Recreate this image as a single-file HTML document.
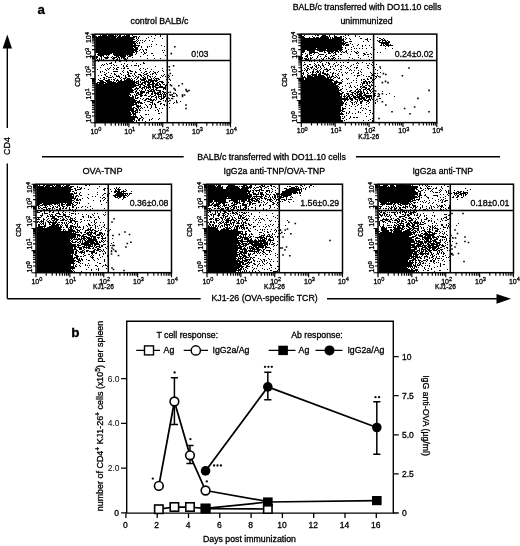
<!DOCTYPE html>
<html><head><meta charset="utf-8"><style>
html,body{margin:0;padding:0;background:#fff;overflow:hidden;}
svg{display:block;filter:blur(0.35px);}
text{font-family:"Liberation Sans",sans-serif;fill:#000;stroke:#000;stroke-width:0.3px;}
</style></head><body>
<svg width="520" height="546" viewBox="0 0 520 546">
<rect width="520" height="546" fill="#fff"/>
<text x="37.5" y="13.6" font-size="13.3" font-weight="bold">a</text>
<text x="159.5" y="23.7" font-size="8.75" text-anchor="middle" >control BALB/c</text>
<text x="367.0" y="9.7" font-size="8.75" text-anchor="middle" >BALB/c transferred with DO11.10 cells</text>
<text x="366.5" y="24.0" font-size="8.75" text-anchor="middle" >unimmunized</text>
<path d="M7.3 46V128M7.3 163.5V298.8" stroke="#000" stroke-width="1.4" fill="none"/>
<path d="M7.3 34.5L2.6 48.5H12Z" fill="#000"/>
<path d="M511 298.8L496.5 293.9V303.7Z" fill="#000"/>
<text transform="translate(10.1,146) rotate(-90)" font-size="8.9" text-anchor="middle">CD4</text>
<path d="M42 156.8H183.7M356 156.8H500" stroke="#000" stroke-width="1.4"/>
<text x="271.5" y="159.8" font-size="8.75" text-anchor="middle" >BALB/c transferred with DO11.10 cells</text>
<text x="102.5" y="174.1" font-size="9.2" text-anchor="middle" >OVA-TNP</text>
<text x="274.3" y="174.2" font-size="8.75" text-anchor="middle" >IgG2a anti-TNP/OVA-TNP</text>
<text x="442.8" y="174.2" font-size="8.75" text-anchor="middle" >IgG2a anti-TNP</text>
<path d="M7.3 298.8H200.7M327 298.8H497" stroke="#000" stroke-width="1.4" fill="none"/>
<text x="264.6" y="301.2" font-size="8.75" text-anchor="middle" >KJ1-26 (OVA-specific TCR)</text>
<path d="M106 34h1v1h-1zM109 34h3v1h-3zM113 34h1v1h-1zM120 34h1v1h-1zM128 34h1v1h-1zM134 34h3v1h-3zM100 35h1v1h-1zM102 35h5v1h-5zM108 35h6v1h-6zM115 35h1v1h-1zM117 35h1v1h-1zM119 35h2v1h-2zM124 35h1v1h-1zM126 35h4v1h-4zM132 35h1v1h-1zM155 35h1v1h-1zM160 35h1v1h-1zM95.5 36h1.5v1h-1.5zM98 36h19v1h-19zM118 36h3v1h-3zM122 36h8v1h-8zM133 36h4v1h-4zM139 36h1v1h-1zM151 36h1v1h-1zM160 36h1v1h-1zM95.5 37h20.5v1h-20.5zM117 37h18v1h-18zM136 37h1v1h-1zM138 37h1v1h-1zM148 37h1v1h-1zM95.5 38h38.5v1h-38.5zM136 38h1v1h-1zM138 38h1v1h-1zM146 38h1v1h-1zM154 38h1v1h-1zM162 38h1v1h-1zM95.5 39h39.5v1h-39.5zM137 39h1v1h-1zM95.5 40h37.5v1h-37.5zM136 40h1v1h-1zM138 40h1v1h-1zM140 40h1v1h-1zM142 40h1v1h-1zM145 40h1v1h-1zM149 40h1v1h-1zM95.5 41h40.5v1h-40.5zM137 41h1v1h-1zM144 41h1v1h-1zM152 41h1v1h-1zM95.5 42h39.5v1h-39.5zM136 42h1v1h-1zM139 42h1v1h-1zM142 42h1v1h-1zM95.5 43h40.5v1h-40.5zM137 43h1v1h-1zM139 43h1v1h-1zM95.5 44h37.5v1h-37.5zM134 44h2v1h-2zM151 44h1v1h-1zM156 44h1v1h-1zM95.5 45h44.5v1h-44.5zM161 45h1v1h-1zM95.5 46h40.5v1h-40.5zM138 46h1v1h-1zM141 46h1v1h-1zM147 46h1v1h-1zM149 46h1v1h-1zM151 46h1v1h-1zM164 46h1v1h-1zM95.5 47h37.5v1h-37.5zM134 47h4v1h-4zM141 47h1v1h-1zM147 47h1v1h-1zM95.5 48h38.5v1h-38.5zM135 48h3v1h-3zM95.5 49h42.5v1h-42.5zM140 49h1v1h-1zM142 49h1v1h-1zM145 49h2v1h-2zM95.5 50h41.5v1h-41.5zM139 50h1v1h-1zM143 50h1v1h-1zM146 50h1v1h-1zM162 50h1v1h-1zM164 50h1v1h-1zM95.5 51h38.5v1h-38.5zM135 51h3v1h-3zM143 51h1v1h-1zM95.5 52h39.5v1h-39.5zM136 52h1v1h-1zM141 52h1v1h-1zM144 52h1v1h-1zM146 52h1v1h-1zM163 52h1v1h-1zM98 53h14v1h-14zM113 53h20v1h-20zM136 53h1v1h-1zM144 53h2v1h-2zM151 53h2v1h-2zM95.5 54h0.5v1h-0.5zM97 54h13v1h-13zM113 54h20v1h-20zM135 54h1v1h-1zM143 54h1v1h-1zM95.5 55h0.5v1h-0.5zM98 55h6v1h-6zM106 55h1v1h-1zM108 55h1v1h-1zM114 55h12v1h-12zM127 55h1v1h-1zM129 55h4v1h-4zM147 55h1v1h-1zM153 55h1v1h-1zM165 55h1v1h-1zM96 56h2v1h-2zM100 56h2v1h-2zM103 56h1v1h-1zM107 56h1v1h-1zM112 56h1v1h-1zM116 56h3v1h-3zM120 56h6v1h-6zM128 56h3v1h-3zM140 56h1v1h-1zM96 57h2v1h-2zM101 57h1v1h-1zM104 57h5v1h-5zM111 57h1v1h-1zM113 57h4v1h-4zM118 57h2v1h-2zM121 57h4v1h-4zM127 57h1v1h-1zM132 57h1v1h-1zM96 58h1v1h-1zM99 58h1v1h-1zM101 58h1v1h-1zM105 58h3v1h-3zM112 58h3v1h-3zM117 58h1v1h-1zM119 58h1v1h-1zM121 58h1v1h-1zM123 58h3v1h-3zM127 58h1v1h-1zM147 58h1v1h-1zM154 58h1v1h-1zM160 58h1v1h-1zM97 59h1v1h-1zM99 59h1v1h-1zM101 59h1v1h-1zM103 59h1v1h-1zM113 59h1v1h-1zM116 59h2v1h-2zM119 59h1v1h-1zM124 59h3v1h-3zM96 60h2v1h-2zM102 60h1v1h-1zM123 60h1v1h-1zM125 60h1v1h-1zM95.5 61h0.5v1h-0.5zM98 61h1v1h-1zM115 61h1v1h-1zM119 61h2v1h-2zM126 61h1v1h-1zM132 61h1v1h-1zM111 62h1v1h-1zM115 62h1v1h-1zM143 62h1v1h-1zM106 63h1v1h-1zM109 63h3v1h-3zM124 63h1v1h-1zM136 63h1v1h-1zM143 63h2v1h-2zM102 64h1v1h-1zM104 64h1v1h-1zM107 64h1v1h-1zM113 64h1v1h-1zM121 64h1v1h-1zM127 64h1v1h-1zM140 64h1v1h-1zM101 65h1v1h-1zM103 65h1v1h-1zM111 65h1v1h-1zM114 65h1v1h-1zM116 65h1v1h-1zM123 65h1v1h-1zM126 65h1v1h-1zM131 65h1v1h-1zM134 65h3v1h-3zM138 65h1v1h-1zM123 66h1v1h-1zM126 66h2v1h-2zM138 66h1v1h-1zM155 66h1v1h-1zM100 67h1v1h-1zM110 67h1v1h-1zM113 67h1v1h-1zM117 67h2v1h-2zM124 67h1v1h-1zM107 68h1v1h-1zM109 68h1v1h-1zM114 68h1v1h-1zM116 68h1v1h-1zM121 68h1v1h-1zM123 68h2v1h-2zM127 68h2v1h-2zM140 68h1v1h-1zM143 68h1v1h-1zM147 68h1v1h-1zM162 68h1v1h-1zM97 69h1v1h-1zM105 69h1v1h-1zM108 69h1v1h-1zM113 69h1v1h-1zM116 69h2v1h-2zM139 69h1v1h-1zM145 69h1v1h-1zM151 69h1v1h-1zM106 70h1v1h-1zM123 70h1v1h-1zM129 70h2v1h-2zM140 70h1v1h-1zM162 70h1v1h-1zM100 71h1v1h-1zM102 71h1v1h-1zM113 71h5v1h-5zM122 71h1v1h-1zM127 71h1v1h-1zM130 71h3v1h-3zM135 71h1v1h-1zM145 71h2v1h-2zM150 71h1v1h-1zM153 71h1v1h-1zM158 71h1v1h-1zM163 71h1v1h-1zM100 72h1v1h-1zM104 72h1v1h-1zM108 72h1v1h-1zM123 72h1v1h-1zM127 72h2v1h-2zM135 72h2v1h-2zM141 72h1v1h-1zM144 72h1v1h-1zM149 72h1v1h-1zM154 72h2v1h-2zM157 72h1v1h-1zM106 73h1v1h-1zM111 73h1v1h-1zM114 73h1v1h-1zM120 73h1v1h-1zM128 73h1v1h-1zM130 73h2v1h-2zM134 73h1v1h-1zM143 73h1v1h-1zM146 73h2v1h-2zM152 73h2v1h-2zM155 73h1v1h-1zM104 74h2v1h-2zM114 74h2v1h-2zM121 74h1v1h-1zM127 74h2v1h-2zM134 74h1v1h-1zM138 74h3v1h-3zM144 74h3v1h-3zM150 74h1v1h-1zM152 74h1v1h-1zM156 74h1v1h-1zM164 74h1v1h-1zM95.5 75h0.5v1h-0.5zM98 75h1v1h-1zM101 75h1v1h-1zM105 75h1v1h-1zM110 75h1v1h-1zM116 75h1v1h-1zM118 75h1v1h-1zM123 75h1v1h-1zM125 75h1v1h-1zM128 75h2v1h-2zM132 75h1v1h-1zM135 75h1v1h-1zM140 75h2v1h-2zM143 75h1v1h-1zM147 75h2v1h-2zM161 75h1v1h-1zM163 75h1v1h-1zM172 75h1v1h-1zM106 76h2v1h-2zM112 76h1v1h-1zM116 76h4v1h-4zM125 76h1v1h-1zM128 76h3v1h-3zM133 76h1v1h-1zM136 76h1v1h-1zM138 76h1v1h-1zM141 76h1v1h-1zM144 76h1v1h-1zM147 76h1v1h-1zM149 76h2v1h-2zM152 76h1v1h-1zM155 76h1v1h-1zM162 76h1v1h-1zM165 76h1v1h-1zM169 76h1v1h-1zM103 77h2v1h-2zM108 77h4v1h-4zM113 77h1v1h-1zM119 77h1v1h-1zM121 77h1v1h-1zM125 77h2v1h-2zM135 77h1v1h-1zM137 77h2v1h-2zM142 77h2v1h-2zM145 77h1v1h-1zM147 77h1v1h-1zM150 77h1v1h-1zM154 77h1v1h-1zM160 77h1v1h-1zM167 77h2v1h-2zM100 78h1v1h-1zM104 78h1v1h-1zM106 78h1v1h-1zM115 78h1v1h-1zM120 78h1v1h-1zM123 78h3v1h-3zM127 78h3v1h-3zM131 78h1v1h-1zM134 78h1v1h-1zM137 78h1v1h-1zM140 78h1v1h-1zM143 78h3v1h-3zM147 78h1v1h-1zM151 78h1v1h-1zM153 78h1v1h-1zM155 78h4v1h-4zM95.5 79h0.5v1h-0.5zM98 79h1v1h-1zM103 79h2v1h-2zM108 79h2v1h-2zM111 79h1v1h-1zM113 79h2v1h-2zM117 79h1v1h-1zM121 79h1v1h-1zM124 79h1v1h-1zM126 79h5v1h-5zM132 79h1v1h-1zM136 79h1v1h-1zM140 79h6v1h-6zM148 79h4v1h-4zM154 79h1v1h-1zM156 79h1v1h-1zM158 79h2v1h-2zM166 79h1v1h-1zM99 80h4v1h-4zM105 80h5v1h-5zM114 80h1v1h-1zM116 80h3v1h-3zM120 80h2v1h-2zM124 80h9v1h-9zM134 80h1v1h-1zM138 80h1v1h-1zM141 80h4v1h-4zM146 80h1v1h-1zM148 80h10v1h-10zM170 80h1v1h-1zM100 81h4v1h-4zM106 81h6v1h-6zM113 81h1v1h-1zM116 81h1v1h-1zM118 81h17v1h-17zM136 81h3v1h-3zM140 81h1v1h-1zM144 81h5v1h-5zM150 81h4v1h-4zM155 81h2v1h-2zM159 81h4v1h-4zM167 81h1v1h-1zM97 82h9v1h-9zM107 82h9v1h-9zM117 82h20v1h-20zM138 82h1v1h-1zM140 82h1v1h-1zM142 82h4v1h-4zM147 82h4v1h-4zM152 82h2v1h-2zM157 82h2v1h-2zM161 82h3v1h-3zM168 82h1v1h-1zM95.5 83h2.5v1h-2.5zM99 83h5v1h-5zM105 83h30v1h-30zM136 83h3v1h-3zM141 83h2v1h-2zM144 83h2v1h-2zM148 83h2v1h-2zM152 83h3v1h-3zM156 83h2v1h-2zM159 83h1v1h-1zM162 83h1v1h-1zM95.5 84h40.5v1h-40.5zM138 84h5v1h-5zM145 84h1v1h-1zM147 84h7v1h-7zM155 84h3v1h-3zM159 84h2v1h-2zM163 84h2v1h-2zM166 84h1v1h-1zM95.5 85h43.5v1h-43.5zM140 85h1v1h-1zM143 85h2v1h-2zM147 85h3v1h-3zM152 85h2v1h-2zM155 85h4v1h-4zM160 85h1v1h-1zM165 85h2v1h-2zM95.5 86h40.5v1h-40.5zM139 86h2v1h-2zM144 86h3v1h-3zM148 86h3v1h-3zM152 86h4v1h-4zM159 86h4v1h-4zM165 86h1v1h-1zM95.5 87h38.5v1h-38.5zM136 87h1v1h-1zM139 87h2v1h-2zM142 87h3v1h-3zM146 87h5v1h-5zM152 87h2v1h-2zM155 87h11v1h-11zM95.5 88h36.5v1h-36.5zM135 88h4v1h-4zM141 88h2v1h-2zM144 88h1v1h-1zM146 88h1v1h-1zM148 88h1v1h-1zM150 88h1v1h-1zM153 88h1v1h-1zM156 88h2v1h-2zM163 88h3v1h-3zM167 88h1v1h-1zM95.5 89h37.5v1h-37.5zM134 89h2v1h-2zM137 89h1v1h-1zM142 89h1v1h-1zM145 89h1v1h-1zM149 89h1v1h-1zM151 89h3v1h-3zM155 89h2v1h-2zM163 89h1v1h-1zM165 89h1v1h-1zM95.5 90h38.5v1h-38.5zM136 90h1v1h-1zM139 90h1v1h-1zM141 90h1v1h-1zM145 90h1v1h-1zM147 90h2v1h-2zM150 90h2v1h-2zM153 90h2v1h-2zM156 90h5v1h-5zM175 90h1v1h-1zM95.5 91h37.5v1h-37.5zM135 91h2v1h-2zM140 91h5v1h-5zM148 91h7v1h-7zM159 91h2v1h-2zM162 91h2v1h-2zM95.5 92h38.5v1h-38.5zM135 92h1v1h-1zM137 92h2v1h-2zM140 92h5v1h-5zM146 92h3v1h-3zM152 92h1v1h-1zM154 92h2v1h-2zM157 92h4v1h-4zM163 92h3v1h-3zM168 92h1v1h-1zM95.5 93h34.5v1h-34.5zM136 93h3v1h-3zM140 93h3v1h-3zM146 93h1v1h-1zM148 93h1v1h-1zM151 93h2v1h-2zM154 93h5v1h-5zM160 93h1v1h-1zM162 93h1v1h-1zM164 93h1v1h-1zM166 93h1v1h-1zM175 93h1v1h-1zM95.5 94h35.5v1h-35.5zM134 94h1v1h-1zM136 94h1v1h-1zM138 94h4v1h-4zM145 94h1v1h-1zM151 94h2v1h-2zM155 94h1v1h-1zM157 94h5v1h-5zM163 94h3v1h-3zM167 94h1v1h-1zM172 94h1v1h-1zM176 94h1v1h-1zM95.5 95h33.5v1h-33.5zM130 95h1v1h-1zM132 95h1v1h-1zM135 95h3v1h-3zM140 95h3v1h-3zM144 95h3v1h-3zM150 95h1v1h-1zM154 95h2v1h-2zM158 95h1v1h-1zM161 95h1v1h-1zM163 95h1v1h-1zM165 95h1v1h-1zM170 95h1v1h-1zM95.5 96h34.5v1h-34.5zM132 96h2v1h-2zM135 96h1v1h-1zM140 96h2v1h-2zM148 96h2v1h-2zM151 96h3v1h-3zM156 96h1v1h-1zM158 96h4v1h-4zM163 96h3v1h-3zM172 96h3v1h-3zM95.5 97h38.5v1h-38.5zM135 97h1v1h-1zM137 97h2v1h-2zM151 97h1v1h-1zM155 97h2v1h-2zM158 97h1v1h-1zM161 97h1v1h-1zM163 97h2v1h-2zM167 97h1v1h-1zM95.5 98h38.5v1h-38.5zM135 98h3v1h-3zM140 98h1v1h-1zM143 98h1v1h-1zM146 98h3v1h-3zM150 98h1v1h-1zM156 98h1v1h-1zM159 98h1v1h-1zM161 98h3v1h-3zM166 98h1v1h-1zM169 98h1v1h-1zM171 98h1v1h-1zM95.5 99h39.5v1h-39.5zM142 99h1v1h-1zM145 99h2v1h-2zM148 99h4v1h-4zM153 99h2v1h-2zM156 99h1v1h-1zM160 99h2v1h-2zM166 99h1v1h-1zM95.5 100h41.5v1h-41.5zM139 100h1v1h-1zM144 100h2v1h-2zM150 100h4v1h-4zM155 100h1v1h-1zM163 100h1v1h-1zM165 100h1v1h-1zM176 100h1v1h-1zM95.5 101h40.5v1h-40.5zM137 101h3v1h-3zM147 101h3v1h-3zM152 101h1v1h-1zM158 101h3v1h-3zM165 101h1v1h-1zM168 101h1v1h-1zM176 101h1v1h-1zM180 101h1v1h-1zM95.5 102h46.5v1h-46.5zM144 102h1v1h-1zM150 102h3v1h-3zM157 102h2v1h-2zM174 102h1v1h-1zM95.5 103h38.5v1h-38.5zM135 103h2v1h-2zM138 103h1v1h-1zM140 103h3v1h-3zM152 103h1v1h-1zM154 103h1v1h-1zM160 103h2v1h-2zM169 103h1v1h-1zM173 103h1v1h-1zM95.5 104h41.5v1h-41.5zM145 104h1v1h-1zM149 104h2v1h-2zM152 104h1v1h-1zM154 104h2v1h-2zM160 104h1v1h-1zM163 104h2v1h-2zM95.5 105h38.5v1h-38.5zM136 105h3v1h-3zM140 105h1v1h-1zM146 105h1v1h-1zM151 105h1v1h-1zM155 105h1v1h-1zM164 105h1v1h-1zM166 105h1v1h-1zM95.5 106h36.5v1h-36.5zM136 106h5v1h-5zM147 106h1v1h-1zM151 106h1v1h-1zM155 106h1v1h-1zM95.5 107h36.5v1h-36.5zM133 107h2v1h-2zM137 107h2v1h-2zM141 107h1v1h-1zM144 107h1v1h-1zM147 107h1v1h-1zM151 107h1v1h-1zM155 107h2v1h-2zM169 107h1v1h-1zM95.5 108h38.5v1h-38.5zM135 108h2v1h-2zM138 108h1v1h-1zM140 108h1v1h-1zM142 108h1v1h-1zM150 108h1v1h-1zM159 108h1v1h-1zM162 108h1v1h-1zM95.5 109h38.5v1h-38.5zM136 109h2v1h-2zM139 109h1v1h-1zM157 109h1v1h-1zM95.5 110h38.5v1h-38.5zM135 110h3v1h-3zM139 110h2v1h-2zM145 110h1v1h-1zM148 110h1v1h-1zM155 110h1v1h-1zM158 110h1v1h-1zM95.5 111h34.5v1h-34.5zM131 111h5v1h-5zM137 111h1v1h-1zM158 111h1v1h-1zM95.5 112h35.5v1h-35.5zM132 112h2v1h-2zM135 112h3v1h-3zM139 112h1v1h-1zM161 112h1v1h-1zM95.5 113h35.5v1h-35.5zM132 113h4v1h-4zM158 113h2v1h-2zM95.5 114h36.5v1h-36.5zM133 114h3v1h-3zM145 114h2v1h-2zM148 114h1v1h-1zM95.5 115h35.5v1h-35.5zM133 115h1v1h-1zM135 115h1v1h-1zM140 115h1v1h-1zM95.5 116h41.5v1h-41.5zM141 116h1v1h-1zM95.5 117h42.5v1h-42.5zM141 117h2v1h-2zM95.5 118h39.5v1h-39.5zM137 118h1v1h-1zM139 118h2v1h-2zM143 118h1v1h-1zM152 118h1v1h-1zM159 118h1v1h-1zM95.5 119h39.5v1h-39.5zM138 119h2v1h-2zM142 119h1v1h-1zM149 119h1v1h-1zM151 119h1v1h-1zM158 119h1v1h-1zM95.5 120h37.5v1h-37.5zM134 120h1v1h-1zM136 120h1v1h-1zM138 120h2v1h-2zM142 120h1v1h-1zM149 120h1v1h-1zM95.5 121h38.5v1h-38.5zM136 121h1v1h-1zM145 121h1v1h-1zM95.5 122h37.5v1h-37.5zM172.8 65.0h1.6v1.6h-1.6zM168.5 66.0h1.6v1.6h-1.6zM168.7 69.2h1.6v1.6h-1.6zM169.5 72.7h1.6v1.6h-1.6zM167.7 74.7h1.6v1.6h-1.6zM168.7 78.5h1.6v1.6h-1.6zM169.7 84.0h1.6v1.6h-1.6zM170.7 85.0h1.6v1.6h-1.6zM178.0 85.0h1.6v1.6h-1.6zM181.5 83.0h1.6v1.6h-1.6zM173.2 87.7h1.6v1.6h-1.6zM174.2 88.7h1.6v1.6h-1.6zM185.2 88.7h1.6v1.6h-1.6zM185.7 90.2h1.6v1.6h-1.6zM186.7 90.7h1.6v1.6h-1.6zM188.2 89.7h1.6v1.6h-1.6zM169.5 91.5h1.6v1.6h-1.6zM173.0 92.5h1.6v1.6h-1.6zM169.2 94.0h1.6v1.6h-1.6zM171.2 94.2h1.6v1.6h-1.6zM176.2 95.0h1.6v1.6h-1.6zM181.7 94.2h1.6v1.6h-1.6zM181.7 95.7h1.6v1.6h-1.6zM183.7 94.2h1.6v1.6h-1.6zM167.2 97.2h1.6v1.6h-1.6zM171.7 97.7h1.6v1.6h-1.6zM169.2 99.7h1.6v1.6h-1.6zM176.2 101.7h1.6v1.6h-1.6zM185.2 104.2h1.6v1.6h-1.6zM185.2 107.7h1.6v1.6h-1.6zM174.0 46.0h1.6v1.6h-1.6zM170.5 52.8h1.6v1.6h-1.6z" fill="#000"/>
<path d="M95.00 122.70v4.5M95.00 122.70h-4.5M105.20 122.70v3M95.00 116.04h-3M111.16 122.70v3M95.00 112.14h-3M115.39 122.70v3M95.00 109.38h-3M118.68 122.70v3M95.00 107.24h-3M121.36 122.70v3M95.00 105.48h-3M123.63 122.70v3M95.00 104.00h-3M125.59 122.70v3M95.00 102.72h-3M127.32 122.70v3M95.00 101.59h-3M128.88 122.70v4.5M95.00 100.58h-4.5M139.07 122.70v3M95.00 93.91h-3M145.04 122.70v3M95.00 90.02h-3M149.27 122.70v3M95.00 87.25h-3M152.55 122.70v3M95.00 85.11h-3M155.23 122.70v3M95.00 83.36h-3M157.50 122.70v3M95.00 81.88h-3M159.47 122.70v3M95.00 80.59h-3M161.20 122.70v3M95.00 79.46h-3M162.75 122.70v4.5M95.00 78.45h-4.5M172.95 122.70v3M95.00 71.79h-3M178.91 122.70v3M95.00 67.89h-3M183.14 122.70v3M95.00 65.13h-3M186.43 122.70v3M95.00 62.99h-3M189.11 122.70v3M95.00 61.23h-3M191.38 122.70v3M95.00 59.75h-3M193.34 122.70v3M95.00 58.47h-3M195.07 122.70v3M95.00 57.34h-3M196.62 122.70v4.5M95.00 56.33h-4.5M206.82 122.70v3M95.00 49.66h-3M212.79 122.70v3M95.00 45.77h-3M217.02 122.70v3M95.00 43.00h-3M220.30 122.70v3M95.00 40.86h-3M222.98 122.70v3M95.00 39.11h-3M225.25 122.70v3M95.00 37.63h-3M227.22 122.70v3M95.00 36.34h-3M228.95 122.70v3M95.00 35.21h-3M230.50 122.70v4.5M95.00 34.20h-4.5" stroke="#000" stroke-width="1.15" fill="none"/>
<rect x="95.00" y="34.20" width="135.5" height="88.5" fill="none" stroke="#000" stroke-width="1.5"/>
<path d="M167.30 34.20V122.70M95.00 60.50H230.50" stroke="#000" stroke-width="1.5"/>
<text x="95.90" y="133.50" font-size="7.0" text-anchor="middle">10<tspan font-size="5.6" dy="-2.2">0</tspan></text>
<text x="129.78" y="133.50" font-size="7.0" text-anchor="middle">10<tspan font-size="5.6" dy="-2.2">1</tspan></text>
<text x="163.65" y="133.50" font-size="7.0" text-anchor="middle">10<tspan font-size="5.6" dy="-2.2">2</tspan></text>
<text x="197.53" y="133.50" font-size="7.0" text-anchor="middle">10<tspan font-size="5.6" dy="-2.2">3</tspan></text>
<text x="231.40" y="133.50" font-size="7.0" text-anchor="middle">10<tspan font-size="5.6" dy="-2.2">4</tspan></text>
<text transform="translate(90.70,122.50) rotate(-90)" font-size="7.1">10<tspan font-size="5.8" dy="-1.6">0</tspan></text>
<text transform="translate(90.70,99.40) rotate(-90)" font-size="7.1">10<tspan font-size="5.8" dy="-1.6">1</tspan></text>
<text transform="translate(90.70,76.80) rotate(-90)" font-size="7.1">10<tspan font-size="5.8" dy="-1.6">2</tspan></text>
<text transform="translate(90.70,58.80) rotate(-90)" font-size="7.1">10<tspan font-size="5.8" dy="-1.6">3</tspan></text>
<text transform="translate(90.70,43.10) rotate(-90)" font-size="7.1">10<tspan font-size="5.8" dy="-1.6">4</tspan></text>
<text x="162.45" y="139.30" font-size="6.6" text-anchor="middle">KJ1-26</text>
<text transform="translate(80.20,80.20) rotate(-90)" font-size="6.6" text-anchor="middle">CD4</text>
<text x="208.4" y="56.5" font-size="8.75" text-anchor="end" >0.03</text>
<path d="M197.5 50.8V53.6" stroke="#000" stroke-width="0.9"/>
<path d="M304 35h1v1h-1zM315 35h1v1h-1zM317 35h2v1h-2zM322 35h4v1h-4zM329 35h1v1h-1zM334 35h1v1h-1zM345 35h1v1h-1zM348 35h1v1h-1zM355 35h1v1h-1zM301.8 36h2.2v1h-2.2zM312 36h1v1h-1zM321 36h7v1h-7zM329 36h1v1h-1zM334 36h3v1h-3zM340 36h2v1h-2zM343 36h1v1h-1zM355 36h1v1h-1zM359 36h1v1h-1zM301.8 37h3.2v1h-3.2zM309 37h1v1h-1zM313 37h2v1h-2zM316 37h3v1h-3zM320 37h9v1h-9zM330 37h1v1h-1zM332 37h1v1h-1zM334 37h8v1h-8zM345 37h1v1h-1zM377 37h1v1h-1zM301.8 38h27.2v1h-27.2zM330 38h1v1h-1zM332 38h10v1h-10zM343 38h1v1h-1zM346 38h1v1h-1zM349 38h1v1h-1zM360 38h2v1h-2zM367 38h1v1h-1zM379 38h2v1h-2zM383 38h1v1h-1zM301.8 39h42.2v1h-42.2zM345 39h1v1h-1zM350 39h1v1h-1zM365 39h3v1h-3zM370 39h1v1h-1zM381 39h2v1h-2zM384 39h1v1h-1zM301.8 40h42.2v1h-42.2zM367 40h1v1h-1zM377 40h1v1h-1zM379 40h2v1h-2zM382 40h4v1h-4zM387 40h1v1h-1zM301.8 41h40.2v1h-40.2zM343 41h2v1h-2zM349 41h3v1h-3zM363 41h1v1h-1zM368 41h1v1h-1zM378 41h2v1h-2zM382 41h1v1h-1zM385 41h2v1h-2zM388 41h2v1h-2zM301.8 42h42.2v1h-42.2zM345 42h3v1h-3zM379 42h11v1h-11zM301.8 43h44.2v1h-44.2zM350 43h1v1h-1zM381 43h8v1h-8zM301.8 44h43.2v1h-43.2zM346 44h3v1h-3zM352 44h1v1h-1zM358 44h1v1h-1zM381 44h1v1h-1zM383 44h1v1h-1zM385 44h4v1h-4zM390 44h1v1h-1zM301.8 45h40.2v1h-40.2zM343 45h1v1h-1zM345 45h4v1h-4zM357 45h1v1h-1zM362 45h1v1h-1zM365 45h1v1h-1zM369 45h1v1h-1zM380 45h2v1h-2zM383 45h2v1h-2zM386 45h7v1h-7zM301.8 46h40.2v1h-40.2zM353 46h1v1h-1zM362 46h1v1h-1zM385 46h1v1h-1zM388 46h1v1h-1zM301.8 47h41.2v1h-41.2zM345 47h1v1h-1zM351 47h1v1h-1zM371 47h1v1h-1zM301.8 48h14.2v1h-14.2zM317 48h25v1h-25zM345 48h1v1h-1zM354 48h1v1h-1zM356 48h1v1h-1zM359 48h1v1h-1zM362 48h1v1h-1zM366 48h1v1h-1zM385 48h1v1h-1zM392 48h1v1h-1zM301.8 49h24.2v1h-24.2zM327 49h16v1h-16zM348 49h1v1h-1zM351 49h1v1h-1zM374 49h1v1h-1zM301.8 50h3.2v1h-3.2zM307 50h8v1h-8zM317 50h21v1h-21zM339 50h3v1h-3zM346 50h1v1h-1zM301.8 51h3.2v1h-3.2zM309 51h6v1h-6zM319 51h4v1h-4zM324 51h1v1h-1zM327 51h7v1h-7zM335 51h4v1h-4zM340 51h1v1h-1zM342 51h1v1h-1zM345 51h2v1h-2zM351 51h1v1h-1zM354 51h1v1h-1zM357 51h1v1h-1zM302 52h2v1h-2zM309 52h9v1h-9zM324 52h2v1h-2zM328 52h2v1h-2zM331 52h2v1h-2zM334 52h2v1h-2zM338 52h1v1h-1zM341 52h1v1h-1zM343 52h2v1h-2zM346 52h1v1h-1zM355 52h2v1h-2zM358 52h1v1h-1zM366 52h1v1h-1zM377 52h1v1h-1zM380 52h1v1h-1zM305 53h1v1h-1zM309 53h3v1h-3zM314 53h1v1h-1zM318 53h1v1h-1zM328 53h3v1h-3zM333 53h1v1h-1zM335 53h1v1h-1zM347 53h1v1h-1zM356 53h2v1h-2zM363 53h2v1h-2zM370 53h1v1h-1zM301.8 54h1.2v1h-1.2zM307 54h1v1h-1zM309 54h1v1h-1zM313 54h1v1h-1zM319 54h5v1h-5zM326 54h1v1h-1zM335 54h2v1h-2zM340 54h2v1h-2zM350 54h1v1h-1zM364 54h2v1h-2zM367 54h2v1h-2zM371 54h1v1h-1zM306 55h2v1h-2zM310 55h2v1h-2zM318 55h1v1h-1zM325 55h1v1h-1zM331 55h1v1h-1zM333 55h2v1h-2zM358 55h1v1h-1zM363 55h1v1h-1zM301.8 56h0.2v1h-0.2zM305 56h3v1h-3zM317 56h1v1h-1zM320 56h1v1h-1zM325 56h2v1h-2zM330 56h1v1h-1zM332 56h1v1h-1zM338 56h1v1h-1zM368 56h1v1h-1zM301.8 57h1.2v1h-1.2zM307 57h1v1h-1zM310 57h1v1h-1zM312 57h1v1h-1zM317 57h1v1h-1zM324 57h1v1h-1zM328 57h1v1h-1zM333 57h2v1h-2zM349 57h1v1h-1zM358 57h1v1h-1zM371 57h1v1h-1zM302 58h1v1h-1zM304 58h3v1h-3zM308 58h1v1h-1zM310 58h2v1h-2zM316 58h1v1h-1zM321 58h1v1h-1zM323 58h1v1h-1zM326 58h1v1h-1zM328 58h2v1h-2zM331 58h3v1h-3zM335 58h1v1h-1zM338 58h1v1h-1zM340 58h1v1h-1zM352 58h1v1h-1zM360 58h1v1h-1zM301.8 59h0.2v1h-0.2zM305 59h4v1h-4zM310 59h1v1h-1zM314 59h1v1h-1zM319 59h1v1h-1zM322 59h2v1h-2zM330 59h1v1h-1zM332 59h1v1h-1zM334 59h1v1h-1zM348 59h1v1h-1zM354 59h1v1h-1zM369 59h1v1h-1zM306 60h2v1h-2zM314 60h1v1h-1zM317 60h1v1h-1zM319 60h1v1h-1zM329 60h1v1h-1zM331 60h1v1h-1zM334 60h1v1h-1zM338 60h1v1h-1zM309 61h1v1h-1zM311 61h1v1h-1zM314 61h1v1h-1zM319 61h1v1h-1zM321 61h1v1h-1zM301.8 62h0.2v1h-0.2zM304 62h1v1h-1zM317 62h1v1h-1zM320 62h1v1h-1zM326 62h1v1h-1zM328 62h1v1h-1zM336 62h1v1h-1zM340 62h1v1h-1zM343 62h1v1h-1zM347 62h2v1h-2zM357 62h1v1h-1zM362 62h1v1h-1zM372 62h1v1h-1zM314 63h1v1h-1zM322 63h1v1h-1zM328 63h2v1h-2zM334 63h1v1h-1zM356 63h1v1h-1zM358 63h1v1h-1zM366 63h1v1h-1zM369 63h1v1h-1zM304 64h2v1h-2zM309 64h2v1h-2zM315 64h1v1h-1zM318 64h1v1h-1zM322 64h1v1h-1zM325 64h1v1h-1zM329 64h1v1h-1zM333 64h1v1h-1zM338 64h1v1h-1zM353 64h1v1h-1zM371 64h1v1h-1zM376 64h1v1h-1zM303 65h1v1h-1zM307 65h1v1h-1zM314 65h1v1h-1zM316 65h1v1h-1zM318 65h2v1h-2zM322 65h2v1h-2zM328 65h1v1h-1zM335 65h1v1h-1zM337 65h1v1h-1zM341 65h1v1h-1zM343 65h1v1h-1zM351 65h1v1h-1zM357 65h1v1h-1zM367 65h2v1h-2zM372 65h1v1h-1zM301.8 66h0.2v1h-0.2zM307 66h2v1h-2zM312 66h1v1h-1zM315 66h2v1h-2zM320 66h1v1h-1zM323 66h1v1h-1zM330 66h1v1h-1zM332 66h1v1h-1zM335 66h1v1h-1zM340 66h1v1h-1zM345 66h1v1h-1zM350 66h1v1h-1zM301.8 67h0.2v1h-0.2zM306 67h1v1h-1zM310 67h3v1h-3zM316 67h1v1h-1zM318 67h1v1h-1zM320 67h1v1h-1zM324 67h1v1h-1zM330 67h1v1h-1zM341 67h1v1h-1zM347 67h1v1h-1zM354 67h1v1h-1zM356 67h2v1h-2zM367 67h1v1h-1zM374 67h1v1h-1zM304 68h1v1h-1zM307 68h2v1h-2zM311 68h1v1h-1zM314 68h1v1h-1zM317 68h1v1h-1zM321 68h1v1h-1zM326 68h1v1h-1zM333 68h1v1h-1zM346 68h1v1h-1zM348 68h1v1h-1zM356 68h1v1h-1zM368 68h1v1h-1zM380 68h1v1h-1zM301.8 69h0.2v1h-0.2zM305 69h1v1h-1zM307 69h1v1h-1zM309 69h1v1h-1zM313 69h1v1h-1zM315 69h2v1h-2zM320 69h1v1h-1zM324 69h4v1h-4zM329 69h2v1h-2zM334 69h1v1h-1zM338 69h1v1h-1zM340 69h2v1h-2zM350 69h1v1h-1zM361 69h1v1h-1zM375 69h1v1h-1zM302 70h1v1h-1zM304 70h1v1h-1zM306 70h2v1h-2zM313 70h1v1h-1zM317 70h1v1h-1zM319 70h1v1h-1zM323 70h1v1h-1zM327 70h2v1h-2zM336 70h1v1h-1zM349 70h1v1h-1zM351 70h1v1h-1zM354 70h1v1h-1zM358 70h1v1h-1zM377 70h1v1h-1zM306 71h1v1h-1zM312 71h2v1h-2zM316 71h3v1h-3zM320 71h1v1h-1zM323 71h1v1h-1zM326 71h2v1h-2zM339 71h1v1h-1zM360 71h1v1h-1zM303 72h1v1h-1zM307 72h1v1h-1zM310 72h1v1h-1zM312 72h2v1h-2zM315 72h1v1h-1zM317 72h2v1h-2zM320 72h1v1h-1zM322 72h2v1h-2zM330 72h1v1h-1zM333 72h1v1h-1zM341 72h1v1h-1zM345 72h1v1h-1zM347 72h1v1h-1zM353 72h1v1h-1zM358 72h1v1h-1zM361 72h1v1h-1zM370 72h1v1h-1zM380 72h1v1h-1zM302 73h2v1h-2zM308 73h1v1h-1zM312 73h1v1h-1zM316 73h1v1h-1zM319 73h2v1h-2zM322 73h4v1h-4zM327 73h1v1h-1zM332 73h2v1h-2zM335 73h1v1h-1zM338 73h1v1h-1zM346 73h1v1h-1zM351 73h1v1h-1zM357 73h2v1h-2zM371 73h1v1h-1zM374 73h2v1h-2zM377 73h1v1h-1zM301.8 74h0.2v1h-0.2zM303 74h1v1h-1zM307 74h1v1h-1zM311 74h6v1h-6zM318 74h3v1h-3zM324 74h5v1h-5zM332 74h1v1h-1zM337 74h1v1h-1zM342 74h1v1h-1zM361 74h1v1h-1zM372 74h1v1h-1zM302 75h1v1h-1zM307 75h4v1h-4zM312 75h5v1h-5zM318 75h6v1h-6zM326 75h2v1h-2zM329 75h1v1h-1zM332 75h1v1h-1zM335 75h1v1h-1zM338 75h1v1h-1zM342 75h1v1h-1zM354 75h1v1h-1zM357 75h3v1h-3zM363 75h1v1h-1zM371 75h2v1h-2zM374 75h1v1h-1zM377 75h1v1h-1zM302 76h1v1h-1zM304 76h1v1h-1zM307 76h6v1h-6zM314 76h11v1h-11zM327 76h1v1h-1zM329 76h1v1h-1zM331 76h3v1h-3zM336 76h1v1h-1zM357 76h1v1h-1zM366 76h1v1h-1zM368 76h2v1h-2zM375 76h2v1h-2zM378 76h1v1h-1zM302 77h4v1h-4zM307 77h19v1h-19zM327 77h5v1h-5zM334 77h2v1h-2zM337 77h1v1h-1zM339 77h1v1h-1zM370 77h2v1h-2zM376 77h1v1h-1zM302 78h2v1h-2zM305 78h24v1h-24zM330 78h1v1h-1zM333 78h1v1h-1zM338 78h2v1h-2zM346 78h1v1h-1zM348 78h1v1h-1zM356 78h1v1h-1zM367 78h1v1h-1zM370 78h2v1h-2zM375 78h1v1h-1zM301.8 79h2.2v1h-2.2zM305 79h28v1h-28zM342 79h1v1h-1zM347 79h1v1h-1zM361 79h1v1h-1zM363 79h2v1h-2zM367 79h2v1h-2zM372 79h1v1h-1zM374 79h1v1h-1zM301.8 80h32.2v1h-32.2zM336 80h1v1h-1zM341 80h1v1h-1zM353 80h1v1h-1zM356 80h1v1h-1zM361 80h1v1h-1zM365 80h1v1h-1zM372 80h1v1h-1zM301.8 81h30.2v1h-30.2zM334 81h4v1h-4zM342 81h1v1h-1zM363 81h4v1h-4zM368 81h2v1h-2zM371 81h1v1h-1zM373 81h1v1h-1zM301.8 82h31.2v1h-31.2zM334 82h8v1h-8zM351 82h1v1h-1zM356 82h1v1h-1zM361 82h1v1h-1zM363 82h2v1h-2zM366 82h2v1h-2zM369 82h2v1h-2zM372 82h2v1h-2zM301.8 83h35.2v1h-35.2zM339 83h3v1h-3zM347 83h1v1h-1zM349 83h1v1h-1zM362 83h3v1h-3zM366 83h2v1h-2zM369 83h1v1h-1zM301.8 84h34.2v1h-34.2zM338 84h2v1h-2zM360 84h1v1h-1zM362 84h1v1h-1zM367 84h1v1h-1zM371 84h1v1h-1zM301.8 85h36.2v1h-36.2zM345 85h1v1h-1zM350 85h1v1h-1zM357 85h1v1h-1zM362 85h1v1h-1zM365 85h2v1h-2zM368 85h2v1h-2zM371 85h3v1h-3zM301.8 86h37.2v1h-37.2zM342 86h1v1h-1zM350 86h1v1h-1zM354 86h1v1h-1zM360 86h2v1h-2zM363 86h2v1h-2zM369 86h2v1h-2zM375 86h1v1h-1zM301.8 87h36.2v1h-36.2zM339 87h1v1h-1zM349 87h1v1h-1zM351 87h1v1h-1zM355 87h1v1h-1zM360 87h1v1h-1zM362 87h5v1h-5zM370 87h1v1h-1zM301.8 88h37.2v1h-37.2zM342 88h1v1h-1zM357 88h1v1h-1zM361 88h1v1h-1zM365 88h2v1h-2zM368 88h2v1h-2zM372 88h1v1h-1zM301.8 89h37.2v1h-37.2zM340 89h2v1h-2zM346 89h1v1h-1zM356 89h2v1h-2zM359 89h2v1h-2zM363 89h3v1h-3zM367 89h3v1h-3zM371 89h1v1h-1zM301.8 90h39.2v1h-39.2zM350 90h2v1h-2zM355 90h1v1h-1zM358 90h1v1h-1zM360 90h1v1h-1zM363 90h1v1h-1zM366 90h1v1h-1zM369 90h2v1h-2zM374 90h1v1h-1zM301.8 91h37.2v1h-37.2zM341 91h1v1h-1zM347 91h1v1h-1zM349 91h2v1h-2zM354 91h2v1h-2zM357 91h5v1h-5zM363 91h1v1h-1zM367 91h1v1h-1zM370 91h1v1h-1zM372 91h1v1h-1zM382 91h1v1h-1zM301.8 92h38.2v1h-38.2zM342 92h2v1h-2zM351 92h3v1h-3zM356 92h3v1h-3zM360 92h2v1h-2zM363 92h2v1h-2zM367 92h1v1h-1zM371 92h1v1h-1zM301.8 93h41.2v1h-41.2zM346 93h3v1h-3zM352 93h1v1h-1zM354 93h2v1h-2zM357 93h1v1h-1zM359 93h4v1h-4zM364 93h1v1h-1zM366 93h3v1h-3zM370 93h1v1h-1zM373 93h3v1h-3zM378 93h1v1h-1zM389 93h1v1h-1zM301.8 94h40.2v1h-40.2zM344 94h1v1h-1zM347 94h2v1h-2zM350 94h3v1h-3zM355 94h1v1h-1zM357 94h5v1h-5zM364 94h2v1h-2zM374 94h1v1h-1zM379 94h1v1h-1zM386 94h1v1h-1zM301.8 95h38.2v1h-38.2zM341 95h1v1h-1zM344 95h1v1h-1zM346 95h1v1h-1zM348 95h2v1h-2zM352 95h2v1h-2zM356 95h2v1h-2zM359 95h3v1h-3zM363 95h9v1h-9zM374 95h2v1h-2zM301.8 96h40.2v1h-40.2zM343 96h3v1h-3zM347 96h3v1h-3zM351 96h1v1h-1zM353 96h3v1h-3zM357 96h6v1h-6zM365 96h7v1h-7zM374 96h1v1h-1zM377 96h2v1h-2zM394 96h1v1h-1zM301.8 97h40.2v1h-40.2zM344 97h1v1h-1zM346 97h2v1h-2zM349 97h2v1h-2zM353 97h7v1h-7zM361 97h4v1h-4zM366 97h4v1h-4zM371 97h1v1h-1zM301.8 98h46.2v1h-46.2zM349 98h4v1h-4zM354 98h2v1h-2zM358 98h7v1h-7zM366 98h1v1h-1zM369 98h1v1h-1zM371 98h1v1h-1zM379 98h2v1h-2zM301.8 99h47.2v1h-47.2zM350 99h3v1h-3zM355 99h3v1h-3zM359 99h3v1h-3zM363 99h3v1h-3zM368 99h3v1h-3zM372 99h1v1h-1zM301.8 100h40.2v1h-40.2zM344 100h2v1h-2zM347 100h1v1h-1zM351 100h2v1h-2zM357 100h1v1h-1zM359 100h1v1h-1zM362 100h1v1h-1zM364 100h5v1h-5zM370 100h1v1h-1zM375 100h1v1h-1zM301.8 101h41.2v1h-41.2zM344 101h1v1h-1zM350 101h1v1h-1zM355 101h1v1h-1zM357 101h1v1h-1zM360 101h3v1h-3zM367 101h2v1h-2zM377 101h1v1h-1zM301.8 102h42.2v1h-42.2zM346 102h1v1h-1zM351 102h2v1h-2zM354 102h1v1h-1zM356 102h1v1h-1zM360 102h2v1h-2zM366 102h1v1h-1zM369 102h1v1h-1zM375 102h1v1h-1zM301.8 103h42.2v1h-42.2zM345 103h1v1h-1zM352 103h1v1h-1zM356 103h1v1h-1zM360 103h2v1h-2zM368 103h1v1h-1zM375 103h1v1h-1zM301.8 104h41.2v1h-41.2zM345 104h2v1h-2zM352 104h1v1h-1zM354 104h1v1h-1zM358 104h1v1h-1zM366 104h1v1h-1zM301.8 105h41.2v1h-41.2zM349 105h1v1h-1zM357 105h1v1h-1zM361 105h1v1h-1zM301.8 106h39.2v1h-39.2zM345 106h1v1h-1zM351 106h1v1h-1zM355 106h1v1h-1zM368 106h1v1h-1zM301.8 107h39.2v1h-39.2zM342 107h1v1h-1zM361 107h1v1h-1zM301.8 108h39.2v1h-39.2zM342 108h4v1h-4zM349 108h1v1h-1zM360 108h1v1h-1zM363 108h1v1h-1zM365 108h1v1h-1zM301.8 109h39.2v1h-39.2zM342 109h2v1h-2zM355 109h1v1h-1zM366 109h1v1h-1zM301.8 110h41.2v1h-41.2zM362 110h1v1h-1zM369 110h2v1h-2zM301.8 111h39.2v1h-39.2zM342 111h3v1h-3zM349 111h1v1h-1zM358 111h1v1h-1zM301.8 112h38.2v1h-38.2zM341 112h1v1h-1zM346 112h1v1h-1zM349 112h1v1h-1zM358 112h1v1h-1zM360 112h1v1h-1zM370 112h1v1h-1zM301.8 113h41.2v1h-41.2zM346 113h1v1h-1zM348 113h1v1h-1zM352 113h1v1h-1zM355 113h1v1h-1zM365 113h1v1h-1zM372 113h1v1h-1zM301.8 114h42.2v1h-42.2zM369 114h1v1h-1zM301.8 115h38.2v1h-38.2zM346 115h1v1h-1zM301.8 116h39.2v1h-39.2zM342 116h1v1h-1zM344 116h1v1h-1zM350 116h1v1h-1zM366 116h1v1h-1zM301.8 117h39.2v1h-39.2zM344 117h1v1h-1zM350 117h1v1h-1zM353 117h2v1h-2zM356 117h2v1h-2zM301.8 118h39.2v1h-39.2zM342 118h2v1h-2zM349 118h1v1h-1zM372 118h1v1h-1zM301.8 119h39.2v1h-39.2zM346 119h1v1h-1zM370 119h1v1h-1zM301.8 120h41.2v1h-41.2zM344 120h1v1h-1zM363 120h1v1h-1zM368 120h1v1h-1zM372 120h1v1h-1zM301.8 121h41.2v1h-41.2zM372 121h1v1h-1zM301.8 122h38.2v1h-38.2zM379.3 66.2h1.6v1.6h-1.6zM408.2 67.2h1.6v1.6h-1.6zM382.6 72.8h1.6v1.6h-1.6zM385.0 73.7h1.6v1.6h-1.6zM379.2 76.2h1.6v1.6h-1.6zM401.6 75.0h1.6v1.6h-1.6zM381.6 81.8h1.6v1.6h-1.6zM384.7 80.6h1.6v1.6h-1.6zM387.2 81.8h1.6v1.6h-1.6zM374.8 90.2h1.6v1.6h-1.6zM377.7 93.0h1.6v1.6h-1.6zM381.6 93.0h1.6v1.6h-1.6zM378.2 95.2h1.6v1.6h-1.6zM376.2 98.7h1.6v1.6h-1.6zM381.6 100.9h1.6v1.6h-1.6zM385.0 104.2h1.6v1.6h-1.6zM428.2 89.6h1.6v1.6h-1.6zM417.2 97.6h1.6v1.6h-1.6zM403.8 107.7h1.6v1.6h-1.6zM413.8 106.2h1.6v1.6h-1.6zM391.2 111.0h1.6v1.6h-1.6zM428.2 111.0h1.6v1.6h-1.6zM409.2 113.0h1.6v1.6h-1.6zM378.2 117.7h1.6v1.6h-1.6z" fill="#000"/>
<path d="M301.30 122.60v4.5M301.30 122.60h-4.5M311.50 122.60v3M301.30 115.94h-3M317.46 122.60v3M301.30 112.04h-3M321.69 122.60v3M301.30 109.28h-3M324.98 122.60v3M301.30 107.14h-3M327.66 122.60v3M301.30 105.38h-3M329.93 122.60v3M301.30 103.90h-3M331.89 122.60v3M301.30 102.62h-3M333.62 122.60v3M301.30 101.49h-3M335.18 122.60v4.5M301.30 100.47h-4.5M345.37 122.60v3M301.30 93.81h-3M351.34 122.60v3M301.30 89.92h-3M355.57 122.60v3M301.30 87.15h-3M358.85 122.60v3M301.30 85.01h-3M361.53 122.60v3M301.30 83.26h-3M363.80 122.60v3M301.30 81.78h-3M365.77 122.60v3M301.30 80.49h-3M367.50 122.60v3M301.30 79.36h-3M369.05 122.60v4.5M301.30 78.35h-4.5M379.25 122.60v3M301.30 71.69h-3M385.21 122.60v3M301.30 67.79h-3M389.44 122.60v3M301.30 65.03h-3M392.73 122.60v3M301.30 62.89h-3M395.41 122.60v3M301.30 61.13h-3M397.68 122.60v3M301.30 59.65h-3M399.64 122.60v3M301.30 58.37h-3M401.37 122.60v3M301.30 57.24h-3M402.93 122.60v4.5M301.30 56.22h-4.5M413.12 122.60v3M301.30 49.56h-3M419.09 122.60v3M301.30 45.67h-3M423.32 122.60v3M301.30 42.90h-3M426.60 122.60v3M301.30 40.76h-3M429.28 122.60v3M301.30 39.01h-3M431.55 122.60v3M301.30 37.53h-3M433.52 122.60v3M301.30 36.24h-3M435.25 122.60v3M301.30 35.11h-3M436.80 122.60v4.5M301.30 34.10h-4.5" stroke="#000" stroke-width="1.15" fill="none"/>
<rect x="301.30" y="34.10" width="135.5" height="88.5" fill="none" stroke="#000" stroke-width="1.5"/>
<path d="M373.60 34.10V122.60M301.30 60.40H436.80" stroke="#000" stroke-width="1.5"/>
<text x="302.20" y="133.40" font-size="7.0" text-anchor="middle">10<tspan font-size="5.6" dy="-2.2">0</tspan></text>
<text x="336.07" y="133.40" font-size="7.0" text-anchor="middle">10<tspan font-size="5.6" dy="-2.2">1</tspan></text>
<text x="369.95" y="133.40" font-size="7.0" text-anchor="middle">10<tspan font-size="5.6" dy="-2.2">2</tspan></text>
<text x="403.82" y="133.40" font-size="7.0" text-anchor="middle">10<tspan font-size="5.6" dy="-2.2">3</tspan></text>
<text x="437.70" y="133.40" font-size="7.0" text-anchor="middle">10<tspan font-size="5.6" dy="-2.2">4</tspan></text>
<text transform="translate(297.00,122.40) rotate(-90)" font-size="7.1">10<tspan font-size="5.8" dy="-1.6">0</tspan></text>
<text transform="translate(297.00,99.30) rotate(-90)" font-size="7.1">10<tspan font-size="5.8" dy="-1.6">1</tspan></text>
<text transform="translate(297.00,76.70) rotate(-90)" font-size="7.1">10<tspan font-size="5.8" dy="-1.6">2</tspan></text>
<text transform="translate(297.00,58.70) rotate(-90)" font-size="7.1">10<tspan font-size="5.8" dy="-1.6">3</tspan></text>
<text transform="translate(297.00,43.00) rotate(-90)" font-size="7.1">10<tspan font-size="5.8" dy="-1.6">4</tspan></text>
<text x="368.75" y="139.20" font-size="6.6" text-anchor="middle">KJ1-26</text>
<text transform="translate(286.50,80.10) rotate(-90)" font-size="6.6" text-anchor="middle">CD4</text>
<text x="433.5" y="56.7" font-size="8.75" text-anchor="end" >0.24±0.02</text>
<path d="M39 184h1v1h-1zM43 184h1v1h-1zM56 184h2v1h-2zM61 184h1v1h-1zM69 184h1v1h-1zM36.5 185h1.5v1h-1.5zM39 185h1v1h-1zM43 185h2v1h-2zM46 185h7v1h-7zM54 185h1v1h-1zM56 185h5v1h-5zM63 185h1v1h-1zM66 185h4v1h-4zM85 185h2v1h-2zM89 185h1v1h-1zM36.5 186h7.5v1h-7.5zM45 186h5v1h-5zM52 186h2v1h-2zM55 186h6v1h-6zM62 186h1v1h-1zM64 186h5v1h-5zM70 186h4v1h-4zM77 186h1v1h-1zM99 186h1v1h-1zM36.5 187h35.5v1h-35.5zM77 187h1v1h-1zM79 187h1v1h-1zM81 187h1v1h-1zM116 187h1v1h-1zM119 187h1v1h-1zM36.5 188h34.5v1h-34.5zM74 188h2v1h-2zM80 188h2v1h-2zM84 188h1v1h-1zM97 188h1v1h-1zM104 188h2v1h-2zM107 188h1v1h-1zM114 188h1v1h-1zM116 188h1v1h-1zM118 188h1v1h-1zM36.5 189h36.5v1h-36.5zM75 189h1v1h-1zM77 189h4v1h-4zM88 189h1v1h-1zM103 189h2v1h-2zM108 189h1v1h-1zM110 189h1v1h-1zM115 189h1v1h-1zM117 189h4v1h-4zM125 189h1v1h-1zM36.5 190h34.5v1h-34.5zM75 190h2v1h-2zM104 190h1v1h-1zM115 190h2v1h-2zM118 190h2v1h-2zM123 190h1v1h-1zM126 190h1v1h-1zM36.5 191h34.5v1h-34.5zM72 191h2v1h-2zM111 191h1v1h-1zM114 191h6v1h-6zM121 191h5v1h-5zM131 191h1v1h-1zM36.5 192h33.5v1h-33.5zM74 192h1v1h-1zM76 192h1v1h-1zM80 192h1v1h-1zM97 192h1v1h-1zM114 192h2v1h-2zM117 192h5v1h-5zM123 192h1v1h-1zM36.5 193h36.5v1h-36.5zM74 193h3v1h-3zM79 193h1v1h-1zM104 193h2v1h-2zM109 193h1v1h-1zM116 193h12v1h-12zM129 193h3v1h-3zM36.5 194h37.5v1h-37.5zM79 194h1v1h-1zM88 194h1v1h-1zM97 194h1v1h-1zM103 194h1v1h-1zM107 194h1v1h-1zM115 194h9v1h-9zM125 194h1v1h-1zM127 194h1v1h-1zM129 194h1v1h-1zM36.5 195h35.5v1h-35.5zM73 195h1v1h-1zM76 195h2v1h-2zM80 195h2v1h-2zM102 195h1v1h-1zM107 195h1v1h-1zM113 195h14v1h-14zM128 195h1v1h-1zM36.5 196h37.5v1h-37.5zM75 196h2v1h-2zM78 196h1v1h-1zM92 196h1v1h-1zM95 196h1v1h-1zM107 196h1v1h-1zM114 196h2v1h-2zM117 196h5v1h-5zM123 196h2v1h-2zM127 196h1v1h-1zM36.5 197h37.5v1h-37.5zM75 197h1v1h-1zM87 197h1v1h-1zM100 197h1v1h-1zM103 197h2v1h-2zM115 197h3v1h-3zM119 197h2v1h-2zM123 197h3v1h-3zM36.5 198h39.5v1h-39.5zM77 198h1v1h-1zM82 198h1v1h-1zM88 198h1v1h-1zM102 198h1v1h-1zM105 198h1v1h-1zM118 198h1v1h-1zM123 198h1v1h-1zM36.5 199h35.5v1h-35.5zM74 199h1v1h-1zM76 199h2v1h-2zM79 199h2v1h-2zM104 199h1v1h-1zM122 199h1v1h-1zM36.5 200h37.5v1h-37.5zM76 200h3v1h-3zM80 200h1v1h-1zM93 200h1v1h-1zM100 200h1v1h-1zM103 200h1v1h-1zM107 200h1v1h-1zM36.5 201h35.5v1h-35.5zM74 201h1v1h-1zM100 201h1v1h-1zM36.5 202h35.5v1h-35.5zM73 202h1v1h-1zM75 202h3v1h-3zM79 202h1v1h-1zM106 202h1v1h-1zM36.5 203h5.5v1h-5.5zM43 203h17v1h-17zM61 203h2v1h-2zM65 203h1v1h-1zM67 203h6v1h-6zM77 203h1v1h-1zM79 203h1v1h-1zM88 203h1v1h-1zM36.5 204h3.5v1h-3.5zM42 204h10v1h-10zM54 204h2v1h-2zM57 204h1v1h-1zM59 204h1v1h-1zM61 204h4v1h-4zM66 204h5v1h-5zM72 204h2v1h-2zM76 204h1v1h-1zM101 204h1v1h-1zM36.5 205h2.5v1h-2.5zM40 205h3v1h-3zM44 205h3v1h-3zM49 205h1v1h-1zM52 205h1v1h-1zM58 205h2v1h-2zM61 205h2v1h-2zM66 205h5v1h-5zM72 205h1v1h-1zM74 205h2v1h-2zM36.5 206h0.5v1h-0.5zM38 206h2v1h-2zM45 206h1v1h-1zM47 206h1v1h-1zM50 206h1v1h-1zM53 206h1v1h-1zM55 206h1v1h-1zM57 206h1v1h-1zM59 206h1v1h-1zM62 206h3v1h-3zM67 206h1v1h-1zM72 206h2v1h-2zM82 206h1v1h-1zM85 206h1v1h-1zM90 206h1v1h-1zM38 207h1v1h-1zM40 207h1v1h-1zM43 207h4v1h-4zM52 207h2v1h-2zM56 207h2v1h-2zM60 207h1v1h-1zM63 207h1v1h-1zM66 207h1v1h-1zM69 207h1v1h-1zM72 207h2v1h-2zM76 207h1v1h-1zM78 207h1v1h-1zM81 207h1v1h-1zM87 207h1v1h-1zM36.5 208h0.5v1h-0.5zM38 208h2v1h-2zM41 208h2v1h-2zM46 208h1v1h-1zM48 208h3v1h-3zM52 208h1v1h-1zM54 208h1v1h-1zM59 208h2v1h-2zM62 208h2v1h-2zM65 208h2v1h-2zM69 208h1v1h-1zM76 208h1v1h-1zM92 208h1v1h-1zM104 208h1v1h-1zM43 209h2v1h-2zM46 209h2v1h-2zM49 209h1v1h-1zM52 209h1v1h-1zM56 209h2v1h-2zM59 209h2v1h-2zM69 209h2v1h-2zM72 209h1v1h-1zM75 209h1v1h-1zM85 209h1v1h-1zM90 209h1v1h-1zM36.5 210h1.5v1h-1.5zM43 210h3v1h-3zM50 210h3v1h-3zM54 210h1v1h-1zM58 210h2v1h-2zM61 210h2v1h-2zM72 210h1v1h-1zM37 211h1v1h-1zM40 211h2v1h-2zM44 211h1v1h-1zM49 211h2v1h-2zM53 211h1v1h-1zM58 211h1v1h-1zM63 211h1v1h-1zM73 211h1v1h-1zM75 211h1v1h-1zM36.5 212h3.5v1h-3.5zM44 212h1v1h-1zM49 212h1v1h-1zM52 212h2v1h-2zM58 212h1v1h-1zM62 212h1v1h-1zM65 212h1v1h-1zM69 212h1v1h-1zM105 212h1v1h-1zM42 213h1v1h-1zM44 213h4v1h-4zM56 213h4v1h-4zM63 213h1v1h-1zM71 213h3v1h-3zM75 213h1v1h-1zM78 213h1v1h-1zM94 213h1v1h-1zM97 213h1v1h-1zM42 214h1v1h-1zM49 214h1v1h-1zM51 214h2v1h-2zM55 214h1v1h-1zM59 214h2v1h-2zM63 214h3v1h-3zM69 214h1v1h-1zM75 214h1v1h-1zM82 214h1v1h-1zM86 214h1v1h-1zM92 214h1v1h-1zM103 214h1v1h-1zM105 214h1v1h-1zM36.5 215h0.5v1h-0.5zM40 215h3v1h-3zM47 215h1v1h-1zM50 215h1v1h-1zM52 215h1v1h-1zM55 215h2v1h-2zM63 215h3v1h-3zM71 215h1v1h-1zM88 215h1v1h-1zM93 215h1v1h-1zM104 215h1v1h-1zM41 216h1v1h-1zM47 216h2v1h-2zM50 216h5v1h-5zM57 216h6v1h-6zM65 216h5v1h-5zM82 216h2v1h-2zM88 216h1v1h-1zM90 216h1v1h-1zM98 216h1v1h-1zM37 217h4v1h-4zM46 217h1v1h-1zM52 217h3v1h-3zM58 217h1v1h-1zM62 217h1v1h-1zM65 217h1v1h-1zM68 217h1v1h-1zM70 217h1v1h-1zM75 217h1v1h-1zM83 217h1v1h-1zM88 217h1v1h-1zM90 217h2v1h-2zM94 217h1v1h-1zM98 217h1v1h-1zM36.5 218h0.5v1h-0.5zM38 218h1v1h-1zM43 218h1v1h-1zM48 218h1v1h-1zM51 218h6v1h-6zM60 218h1v1h-1zM63 218h1v1h-1zM66 218h1v1h-1zM70 218h3v1h-3zM74 218h1v1h-1zM99 218h1v1h-1zM36.5 219h3.5v1h-3.5zM43 219h2v1h-2zM47 219h1v1h-1zM51 219h1v1h-1zM54 219h5v1h-5zM62 219h3v1h-3zM67 219h1v1h-1zM69 219h2v1h-2zM72 219h1v1h-1zM75 219h1v1h-1zM80 219h2v1h-2zM95 219h2v1h-2zM41 220h1v1h-1zM43 220h1v1h-1zM46 220h1v1h-1zM49 220h1v1h-1zM52 220h3v1h-3zM56 220h2v1h-2zM60 220h4v1h-4zM65 220h2v1h-2zM70 220h5v1h-5zM84 220h1v1h-1zM87 220h1v1h-1zM89 220h1v1h-1zM94 220h1v1h-1zM37 221h2v1h-2zM40 221h4v1h-4zM47 221h2v1h-2zM50 221h1v1h-1zM53 221h1v1h-1zM55 221h2v1h-2zM68 221h1v1h-1zM70 221h2v1h-2zM74 221h4v1h-4zM81 221h1v1h-1zM94 221h1v1h-1zM36.5 222h1.5v1h-1.5zM39 222h1v1h-1zM41 222h1v1h-1zM43 222h1v1h-1zM45 222h1v1h-1zM48 222h9v1h-9zM58 222h2v1h-2zM61 222h2v1h-2zM64 222h1v1h-1zM66 222h1v1h-1zM69 222h3v1h-3zM75 222h1v1h-1zM80 222h1v1h-1zM91 222h1v1h-1zM94 222h1v1h-1zM96 222h1v1h-1zM100 222h1v1h-1zM103 222h1v1h-1zM40 223h1v1h-1zM42 223h2v1h-2zM45 223h1v1h-1zM49 223h1v1h-1zM52 223h4v1h-4zM57 223h1v1h-1zM62 223h1v1h-1zM64 223h1v1h-1zM66 223h1v1h-1zM68 223h1v1h-1zM72 223h1v1h-1zM75 223h1v1h-1zM77 223h1v1h-1zM88 223h1v1h-1zM95 223h1v1h-1zM38 224h2v1h-2zM41 224h1v1h-1zM43 224h1v1h-1zM45 224h1v1h-1zM49 224h2v1h-2zM52 224h3v1h-3zM56 224h4v1h-4zM61 224h1v1h-1zM65 224h1v1h-1zM67 224h1v1h-1zM74 224h1v1h-1zM77 224h1v1h-1zM88 224h2v1h-2zM94 224h1v1h-1zM104 224h1v1h-1zM36.5 225h0.5v1h-0.5zM38 225h2v1h-2zM44 225h2v1h-2zM51 225h8v1h-8zM60 225h1v1h-1zM62 225h1v1h-1zM65 225h3v1h-3zM70 225h3v1h-3zM77 225h1v1h-1zM86 225h1v1h-1zM89 225h2v1h-2zM92 225h1v1h-1zM95 225h1v1h-1zM99 225h1v1h-1zM104 225h1v1h-1zM38 226h8v1h-8zM49 226h10v1h-10zM60 226h2v1h-2zM66 226h2v1h-2zM70 226h6v1h-6zM77 226h1v1h-1zM79 226h1v1h-1zM83 226h1v1h-1zM87 226h1v1h-1zM95 226h1v1h-1zM97 226h1v1h-1zM103 226h1v1h-1zM36.5 227h6.5v1h-6.5zM44 227h1v1h-1zM47 227h15v1h-15zM63 227h1v1h-1zM66 227h2v1h-2zM69 227h3v1h-3zM73 227h1v1h-1zM75 227h2v1h-2zM78 227h3v1h-3zM83 227h1v1h-1zM90 227h2v1h-2zM95 227h1v1h-1zM101 227h1v1h-1zM104 227h1v1h-1zM36.5 228h24.5v1h-24.5zM68 228h1v1h-1zM70 228h2v1h-2zM73 228h1v1h-1zM75 228h1v1h-1zM83 228h1v1h-1zM88 228h1v1h-1zM90 228h1v1h-1zM95 228h1v1h-1zM98 228h1v1h-1zM106 228h1v1h-1zM36.5 229h25.5v1h-25.5zM63 229h2v1h-2zM68 229h5v1h-5zM76 229h2v1h-2zM80 229h1v1h-1zM82 229h1v1h-1zM87 229h4v1h-4zM92 229h2v1h-2zM101 229h1v1h-1zM110 229h1v1h-1zM36.5 230h24.5v1h-24.5zM63 230h1v1h-1zM65 230h1v1h-1zM68 230h7v1h-7zM77 230h3v1h-3zM85 230h4v1h-4zM90 230h3v1h-3zM94 230h2v1h-2zM98 230h1v1h-1zM100 230h1v1h-1zM105 230h1v1h-1zM36.5 231h39.5v1h-39.5zM77 231h1v1h-1zM79 231h1v1h-1zM85 231h1v1h-1zM89 231h1v1h-1zM91 231h1v1h-1zM95 231h3v1h-3zM107 231h1v1h-1zM36.5 232h35.5v1h-35.5zM73 232h1v1h-1zM75 232h4v1h-4zM80 232h2v1h-2zM84 232h2v1h-2zM87 232h6v1h-6zM94 232h2v1h-2zM99 232h3v1h-3zM36.5 233h39.5v1h-39.5zM81 233h1v1h-1zM86 233h3v1h-3zM90 233h2v1h-2zM93 233h3v1h-3zM99 233h4v1h-4zM104 233h1v1h-1zM36.5 234h43.5v1h-43.5zM83 234h3v1h-3zM87 234h5v1h-5zM95 234h1v1h-1zM97 234h4v1h-4zM102 234h1v1h-1zM104 234h1v1h-1zM107 234h1v1h-1zM36.5 235h39.5v1h-39.5zM77 235h4v1h-4zM82 235h2v1h-2zM88 235h3v1h-3zM92 235h1v1h-1zM96 235h4v1h-4zM101 235h1v1h-1zM103 235h1v1h-1zM107 235h1v1h-1zM112 235h1v1h-1zM36.5 236h39.5v1h-39.5zM77 236h1v1h-1zM79 236h1v1h-1zM81 236h6v1h-6zM90 236h6v1h-6zM101 236h2v1h-2zM36.5 237h39.5v1h-39.5zM77 237h1v1h-1zM81 237h1v1h-1zM83 237h2v1h-2zM86 237h4v1h-4zM91 237h1v1h-1zM93 237h3v1h-3zM97 237h3v1h-3zM102 237h1v1h-1zM105 237h1v1h-1zM36.5 238h36.5v1h-36.5zM74 238h1v1h-1zM76 238h1v1h-1zM78 238h2v1h-2zM81 238h5v1h-5zM87 238h5v1h-5zM93 238h3v1h-3zM98 238h1v1h-1zM101 238h5v1h-5zM112 238h1v1h-1zM36.5 239h33.5v1h-33.5zM71 239h1v1h-1zM73 239h9v1h-9zM83 239h2v1h-2zM86 239h1v1h-1zM88 239h9v1h-9zM102 239h1v1h-1zM36.5 240h34.5v1h-34.5zM72 240h1v1h-1zM77 240h1v1h-1zM80 240h1v1h-1zM82 240h1v1h-1zM84 240h2v1h-2zM87 240h10v1h-10zM101 240h1v1h-1zM103 240h1v1h-1zM105 240h1v1h-1zM36.5 241h33.5v1h-33.5zM71 241h2v1h-2zM75 241h2v1h-2zM79 241h2v1h-2zM82 241h1v1h-1zM85 241h9v1h-9zM95 241h3v1h-3zM99 241h1v1h-1zM101 241h2v1h-2zM104 241h1v1h-1zM107 241h1v1h-1zM36.5 242h34.5v1h-34.5zM72 242h4v1h-4zM77 242h2v1h-2zM80 242h1v1h-1zM82 242h1v1h-1zM84 242h11v1h-11zM96 242h2v1h-2zM99 242h2v1h-2zM103 242h1v1h-1zM113 242h1v1h-1zM36.5 243h35.5v1h-35.5zM79 243h1v1h-1zM81 243h8v1h-8zM90 243h9v1h-9zM111 243h1v1h-1zM36.5 244h39.5v1h-39.5zM77 244h2v1h-2zM81 244h12v1h-12zM94 244h6v1h-6zM103 244h3v1h-3zM36.5 245h39.5v1h-39.5zM77 245h4v1h-4zM84 245h7v1h-7zM92 245h1v1h-1zM94 245h2v1h-2zM99 245h1v1h-1zM101 245h2v1h-2zM110 245h1v1h-1zM36.5 246h40.5v1h-40.5zM78 246h1v1h-1zM82 246h3v1h-3zM86 246h1v1h-1zM88 246h5v1h-5zM94 246h1v1h-1zM96 246h4v1h-4zM101 246h2v1h-2zM107 246h1v1h-1zM36.5 247h36.5v1h-36.5zM74 247h2v1h-2zM77 247h5v1h-5zM83 247h7v1h-7zM93 247h1v1h-1zM95 247h2v1h-2zM99 247h2v1h-2zM105 247h1v1h-1zM36.5 248h36.5v1h-36.5zM74 248h2v1h-2zM79 248h3v1h-3zM83 248h1v1h-1zM86 248h1v1h-1zM88 248h3v1h-3zM92 248h2v1h-2zM97 248h2v1h-2zM106 248h1v1h-1zM36.5 249h40.5v1h-40.5zM79 249h3v1h-3zM84 249h1v1h-1zM94 249h2v1h-2zM97 249h4v1h-4zM103 249h1v1h-1zM36.5 250h37.5v1h-37.5zM76 250h2v1h-2zM82 250h2v1h-2zM86 250h3v1h-3zM93 250h2v1h-2zM96 250h3v1h-3zM101 250h1v1h-1zM103 250h1v1h-1zM108 250h1v1h-1zM111 250h1v1h-1zM36.5 251h37.5v1h-37.5zM75 251h2v1h-2zM78 251h1v1h-1zM80 251h3v1h-3zM84 251h1v1h-1zM86 251h2v1h-2zM89 251h6v1h-6zM99 251h2v1h-2zM102 251h1v1h-1zM104 251h1v1h-1zM36.5 252h37.5v1h-37.5zM75 252h2v1h-2zM79 252h6v1h-6zM91 252h4v1h-4zM96 252h1v1h-1zM105 252h1v1h-1zM36.5 253h37.5v1h-37.5zM75 253h2v1h-2zM81 253h1v1h-1zM84 253h1v1h-1zM91 253h2v1h-2zM95 253h2v1h-2zM103 253h1v1h-1zM105 253h1v1h-1zM36.5 254h34.5v1h-34.5zM72 254h1v1h-1zM74 254h2v1h-2zM83 254h1v1h-1zM88 254h2v1h-2zM92 254h1v1h-1zM99 254h1v1h-1zM103 254h1v1h-1zM36.5 255h36.5v1h-36.5zM75 255h3v1h-3zM84 255h2v1h-2zM91 255h1v1h-1zM93 255h1v1h-1zM99 255h1v1h-1zM107 255h1v1h-1zM36.5 256h36.5v1h-36.5zM76 256h3v1h-3zM80 256h2v1h-2zM83 256h1v1h-1zM90 256h1v1h-1zM92 256h1v1h-1zM102 256h1v1h-1zM107 256h1v1h-1zM36.5 257h36.5v1h-36.5zM74 257h4v1h-4zM91 257h3v1h-3zM100 257h1v1h-1zM36.5 258h38.5v1h-38.5zM76 258h2v1h-2zM79 258h1v1h-1zM81 258h1v1h-1zM92 258h1v1h-1zM97 258h1v1h-1zM36.5 259h37.5v1h-37.5zM77 259h3v1h-3zM81 259h2v1h-2zM86 259h1v1h-1zM93 259h1v1h-1zM98 259h1v1h-1zM104 259h1v1h-1zM36.5 260h39.5v1h-39.5zM78 260h3v1h-3zM82 260h1v1h-1zM88 260h2v1h-2zM94 260h1v1h-1zM104 260h1v1h-1zM36.5 261h38.5v1h-38.5zM76 261h3v1h-3zM80 261h1v1h-1zM104 261h1v1h-1zM36.5 262h37.5v1h-37.5zM78 262h2v1h-2zM97 262h1v1h-1zM36.5 263h38.5v1h-38.5zM80 263h1v1h-1zM82 263h1v1h-1zM88 263h1v1h-1zM99 263h2v1h-2zM36.5 264h34.5v1h-34.5zM73 264h1v1h-1zM76 264h1v1h-1zM85 264h1v1h-1zM105 264h1v1h-1zM36.5 265h34.5v1h-34.5zM73 265h1v1h-1zM75 265h1v1h-1zM79 265h1v1h-1zM85 265h1v1h-1zM87 265h1v1h-1zM89 265h1v1h-1zM95 265h2v1h-2zM103 265h1v1h-1zM105 265h2v1h-2zM36.5 266h37.5v1h-37.5zM75 266h2v1h-2zM80 266h1v1h-1zM97 266h1v1h-1zM102 266h1v1h-1zM107 266h1v1h-1zM36.5 267h38.5v1h-38.5zM88 267h1v1h-1zM36.5 268h38.5v1h-38.5zM98 268h1v1h-1zM106 268h1v1h-1zM36.5 269h34.5v1h-34.5zM72 269h1v1h-1zM86 269h1v1h-1zM91 269h1v1h-1zM96 269h1v1h-1zM98 269h1v1h-1zM36.5 270h35.5v1h-35.5zM73 270h1v1h-1zM91 270h1v1h-1zM98 270h1v1h-1zM36.5 271h36.5v1h-36.5zM74 271h1v1h-1zM81 271h1v1h-1zM36.5 272h38.5v1h-38.5zM113.2 218.0h1.6v1.6h-1.6zM111.2 221.2h1.6v1.6h-1.6zM108.2 229.7h1.6v1.6h-1.6zM112.2 234.7h1.6v1.6h-1.6zM118.5 233.7h1.6v1.6h-1.6zM124.2 231.2h1.6v1.6h-1.6zM128.7 233.7h1.6v1.6h-1.6zM130.0 241.5h1.6v1.6h-1.6zM126.5 242.7h1.6v1.6h-1.6zM125.2 246.2h1.6v1.6h-1.6zM111.7 244.7h1.6v1.6h-1.6zM113.2 244.7h1.6v1.6h-1.6zM111.2 247.2h1.6v1.6h-1.6zM112.7 248.7h1.6v1.6h-1.6zM114.7 250.2h1.6v1.6h-1.6zM110.7 250.7h1.6v1.6h-1.6zM115.2 250.7h1.6v1.6h-1.6zM110.7 253.2h1.6v1.6h-1.6zM117.7 254.7h1.6v1.6h-1.6zM111.2 267.2h1.6v1.6h-1.6zM112.7 268.7h1.6v1.6h-1.6zM123.2 269.7h1.6v1.6h-1.6z" fill="#000"/>
<path d="M36.00 272.70v4.5M36.00 272.70h-4.5M46.20 272.70v3M36.00 266.04h-3M52.16 272.70v3M36.00 262.14h-3M56.39 272.70v3M36.00 259.38h-3M59.68 272.70v3M36.00 257.24h-3M62.36 272.70v3M36.00 255.48h-3M64.63 272.70v3M36.00 254.00h-3M66.59 272.70v3M36.00 252.72h-3M68.32 272.70v3M36.00 251.59h-3M69.88 272.70v4.5M36.00 250.57h-4.5M80.07 272.70v3M36.00 243.91h-3M86.04 272.70v3M36.00 240.02h-3M90.27 272.70v3M36.00 237.25h-3M93.55 272.70v3M36.00 235.11h-3M96.23 272.70v3M36.00 233.36h-3M98.50 272.70v3M36.00 231.88h-3M100.47 272.70v3M36.00 230.59h-3M102.20 272.70v3M36.00 229.46h-3M103.75 272.70v4.5M36.00 228.45h-4.5M113.95 272.70v3M36.00 221.79h-3M119.91 272.70v3M36.00 217.89h-3M124.14 272.70v3M36.00 215.13h-3M127.43 272.70v3M36.00 212.99h-3M130.11 272.70v3M36.00 211.23h-3M132.38 272.70v3M36.00 209.75h-3M134.34 272.70v3M36.00 208.47h-3M136.07 272.70v3M36.00 207.34h-3M137.62 272.70v4.5M36.00 206.32h-4.5M147.82 272.70v3M36.00 199.66h-3M153.79 272.70v3M36.00 195.77h-3M158.02 272.70v3M36.00 193.00h-3M161.30 272.70v3M36.00 190.86h-3M163.98 272.70v3M36.00 189.11h-3M166.25 272.70v3M36.00 187.63h-3M168.22 272.70v3M36.00 186.34h-3M169.95 272.70v3M36.00 185.21h-3M171.50 272.70v4.5M36.00 184.20h-4.5" stroke="#000" stroke-width="1.15" fill="none"/>
<rect x="36.00" y="184.20" width="135.5" height="88.5" fill="none" stroke="#000" stroke-width="1.5"/>
<path d="M108.30 184.20V272.70M36.00 210.50H171.50" stroke="#000" stroke-width="1.5"/>
<text x="36.90" y="283.50" font-size="7.0" text-anchor="middle">10<tspan font-size="5.6" dy="-2.2">0</tspan></text>
<text x="70.78" y="283.50" font-size="7.0" text-anchor="middle">10<tspan font-size="5.6" dy="-2.2">1</tspan></text>
<text x="104.65" y="283.50" font-size="7.0" text-anchor="middle">10<tspan font-size="5.6" dy="-2.2">2</tspan></text>
<text x="138.53" y="283.50" font-size="7.0" text-anchor="middle">10<tspan font-size="5.6" dy="-2.2">3</tspan></text>
<text x="172.40" y="283.50" font-size="7.0" text-anchor="middle">10<tspan font-size="5.6" dy="-2.2">4</tspan></text>
<text transform="translate(31.70,272.50) rotate(-90)" font-size="7.1">10<tspan font-size="5.8" dy="-1.6">0</tspan></text>
<text transform="translate(31.70,249.40) rotate(-90)" font-size="7.1">10<tspan font-size="5.8" dy="-1.6">1</tspan></text>
<text transform="translate(31.70,226.80) rotate(-90)" font-size="7.1">10<tspan font-size="5.8" dy="-1.6">2</tspan></text>
<text transform="translate(31.70,208.80) rotate(-90)" font-size="7.1">10<tspan font-size="5.8" dy="-1.6">3</tspan></text>
<text transform="translate(31.70,193.10) rotate(-90)" font-size="7.1">10<tspan font-size="5.8" dy="-1.6">4</tspan></text>
<text x="103.45" y="289.30" font-size="6.6" text-anchor="middle">KJ1-26</text>
<text transform="translate(21.20,230.20) rotate(-90)" font-size="6.6" text-anchor="middle">CD4</text>
<text x="168.5" y="206.2" font-size="8.75" text-anchor="end" >0.36±0.08</text>
<path d="M207.5 184h1.5v1h-1.5zM211 184h1v1h-1zM218 184h1v1h-1zM227 184h8v1h-8zM244 184h1v1h-1zM247 184h2v1h-2zM304 184h1v1h-1zM207.5 185h7.5v1h-7.5zM216 185h1v1h-1zM218 185h3v1h-3zM228 185h7v1h-7zM243 185h4v1h-4zM250 185h2v1h-2zM255 185h1v1h-1zM261 185h2v1h-2zM264 185h1v1h-1zM270 185h2v1h-2zM300 185h2v1h-2zM304 185h1v1h-1zM310 185h2v1h-2zM207.5 186h8.5v1h-8.5zM217 186h4v1h-4zM222 186h1v1h-1zM227 186h11v1h-11zM239 186h1v1h-1zM241 186h4v1h-4zM246 186h2v1h-2zM249 186h3v1h-3zM259 186h2v1h-2zM262 186h3v1h-3zM267 186h2v1h-2zM271 186h1v1h-1zM273 186h2v1h-2zM287 186h1v1h-1zM289 186h2v1h-2zM295 186h3v1h-3zM302 186h1v1h-1zM309 186h1v1h-1zM313 186h1v1h-1zM207.5 187h15.5v1h-15.5zM226 187h13v1h-13zM242 187h10v1h-10zM254 187h1v1h-1zM256 187h3v1h-3zM260 187h2v1h-2zM265 187h2v1h-2zM275 187h1v1h-1zM291 187h4v1h-4zM296 187h1v1h-1zM298 187h1v1h-1zM300 187h1v1h-1zM306 187h1v1h-1zM309 187h1v1h-1zM207.5 188h15.5v1h-15.5zM226 188h14v1h-14zM241 188h8v1h-8zM250 188h1v1h-1zM253 188h1v1h-1zM255 188h1v1h-1zM261 188h1v1h-1zM264 188h1v1h-1zM268 188h1v1h-1zM271 188h1v1h-1zM277 188h1v1h-1zM284 188h3v1h-3zM289 188h10v1h-10zM301 188h1v1h-1zM303 188h1v1h-1zM305 188h1v1h-1zM207.5 189h40.5v1h-40.5zM254 189h1v1h-1zM259 189h3v1h-3zM272 189h1v1h-1zM279 189h1v1h-1zM286 189h16v1h-16zM305 189h1v1h-1zM207.5 190h41.5v1h-41.5zM250 190h1v1h-1zM252 190h2v1h-2zM255 190h5v1h-5zM261 190h3v1h-3zM266 190h4v1h-4zM275 190h1v1h-1zM285 190h15v1h-15zM301 190h1v1h-1zM207.5 191h43.5v1h-43.5zM253 191h1v1h-1zM256 191h1v1h-1zM259 191h1v1h-1zM266 191h2v1h-2zM269 191h1v1h-1zM272 191h1v1h-1zM282 191h15v1h-15zM299 191h1v1h-1zM301 191h1v1h-1zM207.5 192h39.5v1h-39.5zM248 192h2v1h-2zM252 192h2v1h-2zM258 192h1v1h-1zM260 192h3v1h-3zM265 192h1v1h-1zM269 192h1v1h-1zM271 192h1v1h-1zM275 192h1v1h-1zM282 192h16v1h-16zM299 192h2v1h-2zM207.5 193h42.5v1h-42.5zM253 193h3v1h-3zM258 193h1v1h-1zM260 193h3v1h-3zM266 193h1v1h-1zM276 193h4v1h-4zM281 193h11v1h-11zM293 193h3v1h-3zM297 193h1v1h-1zM299 193h2v1h-2zM207.5 194h40.5v1h-40.5zM249 194h3v1h-3zM253 194h6v1h-6zM260 194h4v1h-4zM266 194h3v1h-3zM270 194h1v1h-1zM273 194h2v1h-2zM276 194h16v1h-16zM207.5 195h44.5v1h-44.5zM256 195h1v1h-1zM261 195h1v1h-1zM263 195h1v1h-1zM265 195h1v1h-1zM269 195h1v1h-1zM274 195h2v1h-2zM277 195h1v1h-1zM281 195h10v1h-10zM300 195h1v1h-1zM207.5 196h44.5v1h-44.5zM253 196h10v1h-10zM265 196h2v1h-2zM269 196h1v1h-1zM272 196h1v1h-1zM274 196h2v1h-2zM277 196h2v1h-2zM280 196h2v1h-2zM283 196h5v1h-5zM291 196h1v1h-1zM207.5 197h19.5v1h-19.5zM228 197h23v1h-23zM252 197h1v1h-1zM254 197h1v1h-1zM256 197h1v1h-1zM260 197h2v1h-2zM264 197h1v1h-1zM268 197h1v1h-1zM270 197h1v1h-1zM272 197h1v1h-1zM274 197h2v1h-2zM277 197h1v1h-1zM279 197h5v1h-5zM286 197h1v1h-1zM290 197h1v1h-1zM292 197h1v1h-1zM207.5 198h42.5v1h-42.5zM251 198h5v1h-5zM257 198h3v1h-3zM261 198h2v1h-2zM264 198h3v1h-3zM270 198h1v1h-1zM273 198h1v1h-1zM275 198h1v1h-1zM278 198h1v1h-1zM280 198h1v1h-1zM286 198h1v1h-1zM207.5 199h18.5v1h-18.5zM231 199h16v1h-16zM248 199h5v1h-5zM255 199h3v1h-3zM259 199h1v1h-1zM265 199h1v1h-1zM267 199h5v1h-5zM274 199h1v1h-1zM276 199h3v1h-3zM281 199h4v1h-4zM286 199h1v1h-1zM288 199h4v1h-4zM207.5 200h5.5v1h-5.5zM214 200h12v1h-12zM229 200h9v1h-9zM239 200h1v1h-1zM241 200h6v1h-6zM248 200h2v1h-2zM251 200h4v1h-4zM256 200h3v1h-3zM261 200h1v1h-1zM267 200h1v1h-1zM269 200h2v1h-2zM272 200h1v1h-1zM276 200h1v1h-1zM278 200h2v1h-2zM284 200h2v1h-2zM207.5 201h5.5v1h-5.5zM214 201h12v1h-12zM229 201h1v1h-1zM233 201h5v1h-5zM239 201h1v1h-1zM241 201h4v1h-4zM247 201h4v1h-4zM252 201h1v1h-1zM254 201h3v1h-3zM258 201h2v1h-2zM263 201h1v1h-1zM270 201h2v1h-2zM275 201h1v1h-1zM280 201h1v1h-1zM282 201h1v1h-1zM288 201h1v1h-1zM293 201h1v1h-1zM207.5 202h4.5v1h-4.5zM213 202h1v1h-1zM216 202h1v1h-1zM218 202h10v1h-10zM232 202h1v1h-1zM234 202h6v1h-6zM243 202h2v1h-2zM249 202h3v1h-3zM258 202h2v1h-2zM261 202h1v1h-1zM264 202h1v1h-1zM267 202h1v1h-1zM272 202h2v1h-2zM277 202h2v1h-2zM289 202h1v1h-1zM207.5 203h2.5v1h-2.5zM212 203h2v1h-2zM216 203h5v1h-5zM222 203h3v1h-3zM231 203h2v1h-2zM234 203h1v1h-1zM236 203h2v1h-2zM239 203h2v1h-2zM242 203h2v1h-2zM247 203h1v1h-1zM249 203h2v1h-2zM252 203h4v1h-4zM266 203h1v1h-1zM273 203h2v1h-2zM277 203h1v1h-1zM207.5 204h2.5v1h-2.5zM211 204h2v1h-2zM214 204h6v1h-6zM223 204h2v1h-2zM226 204h1v1h-1zM228 204h1v1h-1zM233 204h4v1h-4zM242 204h5v1h-5zM249 204h2v1h-2zM252 204h1v1h-1zM260 204h1v1h-1zM263 204h1v1h-1zM265 204h1v1h-1zM272 204h2v1h-2zM276 204h1v1h-1zM278 204h1v1h-1zM207.5 205h4.5v1h-4.5zM213 205h6v1h-6zM220 205h1v1h-1zM223 205h4v1h-4zM228 205h1v1h-1zM231 205h4v1h-4zM240 205h1v1h-1zM242 205h5v1h-5zM249 205h1v1h-1zM255 205h1v1h-1zM259 205h2v1h-2zM263 205h1v1h-1zM269 205h2v1h-2zM277 205h1v1h-1zM208 206h1v1h-1zM214 206h2v1h-2zM217 206h3v1h-3zM222 206h1v1h-1zM224 206h1v1h-1zM229 206h2v1h-2zM232 206h1v1h-1zM234 206h3v1h-3zM238 206h1v1h-1zM240 206h1v1h-1zM245 206h2v1h-2zM248 206h1v1h-1zM259 206h1v1h-1zM270 206h1v1h-1zM278 206h1v1h-1zM212 207h1v1h-1zM218 207h1v1h-1zM220 207h1v1h-1zM225 207h4v1h-4zM231 207h1v1h-1zM233 207h2v1h-2zM236 207h1v1h-1zM238 207h1v1h-1zM240 207h1v1h-1zM244 207h3v1h-3zM251 207h2v1h-2zM255 207h1v1h-1zM270 207h1v1h-1zM274 207h1v1h-1zM207.5 208h3.5v1h-3.5zM214 208h2v1h-2zM217 208h3v1h-3zM221 208h3v1h-3zM225 208h1v1h-1zM227 208h2v1h-2zM230 208h1v1h-1zM233 208h2v1h-2zM236 208h1v1h-1zM240 208h1v1h-1zM243 208h1v1h-1zM245 208h2v1h-2zM248 208h1v1h-1zM255 208h1v1h-1zM263 208h1v1h-1zM269 208h1v1h-1zM277 208h1v1h-1zM207.5 209h0.5v1h-0.5zM209 209h1v1h-1zM211 209h1v1h-1zM220 209h4v1h-4zM226 209h3v1h-3zM231 209h3v1h-3zM237 209h2v1h-2zM240 209h6v1h-6zM248 209h1v1h-1zM255 209h1v1h-1zM263 209h1v1h-1zM266 209h1v1h-1zM207.5 210h0.5v1h-0.5zM211 210h2v1h-2zM214 210h1v1h-1zM226 210h2v1h-2zM230 210h3v1h-3zM236 210h2v1h-2zM207.5 211h0.5v1h-0.5zM209 211h2v1h-2zM215 211h1v1h-1zM217 211h1v1h-1zM220 211h1v1h-1zM223 211h3v1h-3zM228 211h3v1h-3zM232 211h1v1h-1zM237 211h1v1h-1zM208 212h1v1h-1zM210 212h1v1h-1zM215 212h1v1h-1zM217 212h1v1h-1zM220 212h1v1h-1zM224 212h3v1h-3zM232 212h2v1h-2zM235 212h2v1h-2zM239 212h1v1h-1zM241 212h2v1h-2zM244 212h1v1h-1zM246 212h1v1h-1zM248 212h1v1h-1zM259 212h1v1h-1zM212 213h1v1h-1zM215 213h1v1h-1zM218 213h2v1h-2zM222 213h3v1h-3zM227 213h2v1h-2zM230 213h1v1h-1zM232 213h3v1h-3zM236 213h2v1h-2zM243 213h3v1h-3zM251 213h1v1h-1zM272 213h1v1h-1zM210 214h2v1h-2zM213 214h3v1h-3zM218 214h2v1h-2zM223 214h1v1h-1zM225 214h1v1h-1zM228 214h1v1h-1zM235 214h1v1h-1zM237 214h1v1h-1zM239 214h1v1h-1zM242 214h1v1h-1zM251 214h1v1h-1zM208 215h1v1h-1zM211 215h1v1h-1zM213 215h1v1h-1zM217 215h3v1h-3zM222 215h3v1h-3zM227 215h1v1h-1zM230 215h1v1h-1zM233 215h1v1h-1zM239 215h3v1h-3zM243 215h1v1h-1zM246 215h1v1h-1zM248 215h1v1h-1zM266 215h1v1h-1zM277 215h1v1h-1zM209 216h1v1h-1zM213 216h1v1h-1zM218 216h1v1h-1zM223 216h1v1h-1zM225 216h3v1h-3zM231 216h1v1h-1zM238 216h1v1h-1zM240 216h2v1h-2zM245 216h1v1h-1zM249 216h1v1h-1zM254 216h1v1h-1zM259 216h1v1h-1zM273 216h1v1h-1zM213 217h1v1h-1zM220 217h2v1h-2zM223 217h1v1h-1zM225 217h1v1h-1zM229 217h1v1h-1zM232 217h1v1h-1zM234 217h1v1h-1zM238 217h1v1h-1zM240 217h1v1h-1zM242 217h3v1h-3zM275 217h1v1h-1zM210 218h3v1h-3zM215 218h4v1h-4zM221 218h2v1h-2zM225 218h1v1h-1zM227 218h3v1h-3zM232 218h1v1h-1zM235 218h1v1h-1zM238 218h3v1h-3zM242 218h2v1h-2zM246 218h1v1h-1zM248 218h1v1h-1zM253 218h1v1h-1zM258 218h1v1h-1zM260 218h1v1h-1zM262 218h1v1h-1zM267 218h1v1h-1zM277 218h1v1h-1zM209 219h3v1h-3zM213 219h1v1h-1zM215 219h2v1h-2zM219 219h1v1h-1zM222 219h1v1h-1zM224 219h1v1h-1zM226 219h3v1h-3zM231 219h3v1h-3zM236 219h1v1h-1zM241 219h1v1h-1zM244 219h4v1h-4zM256 219h1v1h-1zM261 219h1v1h-1zM263 219h1v1h-1zM215 220h4v1h-4zM222 220h1v1h-1zM225 220h7v1h-7zM233 220h3v1h-3zM238 220h2v1h-2zM242 220h1v1h-1zM246 220h2v1h-2zM249 220h1v1h-1zM255 220h1v1h-1zM259 220h1v1h-1zM264 220h1v1h-1zM269 220h1v1h-1zM271 220h1v1h-1zM287 220h1v1h-1zM210 221h2v1h-2zM213 221h1v1h-1zM216 221h1v1h-1zM221 221h1v1h-1zM223 221h1v1h-1zM226 221h3v1h-3zM230 221h1v1h-1zM234 221h1v1h-1zM236 221h1v1h-1zM238 221h1v1h-1zM242 221h1v1h-1zM245 221h1v1h-1zM270 221h1v1h-1zM275 221h1v1h-1zM278 221h1v1h-1zM207.5 222h1.5v1h-1.5zM210 222h2v1h-2zM213 222h2v1h-2zM216 222h1v1h-1zM219 222h2v1h-2zM222 222h2v1h-2zM225 222h4v1h-4zM230 222h1v1h-1zM232 222h3v1h-3zM237 222h2v1h-2zM241 222h1v1h-1zM243 222h3v1h-3zM253 222h1v1h-1zM258 222h1v1h-1zM260 222h1v1h-1zM207.5 223h0.5v1h-0.5zM209 223h1v1h-1zM214 223h1v1h-1zM218 223h1v1h-1zM220 223h2v1h-2zM224 223h1v1h-1zM226 223h1v1h-1zM230 223h2v1h-2zM233 223h1v1h-1zM236 223h4v1h-4zM241 223h1v1h-1zM243 223h1v1h-1zM245 223h2v1h-2zM248 223h1v1h-1zM209 224h2v1h-2zM212 224h2v1h-2zM219 224h1v1h-1zM224 224h6v1h-6zM231 224h1v1h-1zM233 224h1v1h-1zM242 224h2v1h-2zM248 224h2v1h-2zM251 224h1v1h-1zM257 224h1v1h-1zM265 224h1v1h-1zM270 224h1v1h-1zM273 224h1v1h-1zM278 224h1v1h-1zM208 225h1v1h-1zM210 225h1v1h-1zM212 225h2v1h-2zM215 225h2v1h-2zM218 225h1v1h-1zM221 225h2v1h-2zM224 225h1v1h-1zM226 225h2v1h-2zM229 225h1v1h-1zM233 225h1v1h-1zM235 225h1v1h-1zM237 225h2v1h-2zM240 225h4v1h-4zM245 225h2v1h-2zM249 225h2v1h-2zM268 225h1v1h-1zM272 225h1v1h-1zM285 225h1v1h-1zM208 226h2v1h-2zM211 226h1v1h-1zM213 226h1v1h-1zM215 226h2v1h-2zM218 226h1v1h-1zM220 226h1v1h-1zM222 226h1v1h-1zM224 226h1v1h-1zM227 226h1v1h-1zM230 226h1v1h-1zM232 226h1v1h-1zM235 226h4v1h-4zM240 226h2v1h-2zM243 226h1v1h-1zM253 226h3v1h-3zM259 226h1v1h-1zM263 226h1v1h-1zM266 226h1v1h-1zM269 226h1v1h-1zM278 226h1v1h-1zM207.5 227h8.5v1h-8.5zM217 227h1v1h-1zM220 227h1v1h-1zM225 227h3v1h-3zM229 227h1v1h-1zM231 227h1v1h-1zM234 227h1v1h-1zM236 227h2v1h-2zM239 227h1v1h-1zM241 227h4v1h-4zM246 227h2v1h-2zM253 227h1v1h-1zM265 227h1v1h-1zM277 227h1v1h-1zM207.5 228h10.5v1h-10.5zM223 228h2v1h-2zM226 228h5v1h-5zM234 228h1v1h-1zM236 228h2v1h-2zM239 228h1v1h-1zM241 228h1v1h-1zM243 228h2v1h-2zM246 228h2v1h-2zM250 228h1v1h-1zM207.5 229h10.5v1h-10.5zM221 229h8v1h-8zM231 229h1v1h-1zM233 229h5v1h-5zM242 229h1v1h-1zM244 229h1v1h-1zM248 229h1v1h-1zM255 229h1v1h-1zM260 229h1v1h-1zM262 229h1v1h-1zM264 229h1v1h-1zM267 229h1v1h-1zM271 229h1v1h-1zM275 229h1v1h-1zM207.5 230h11.5v1h-11.5zM220 230h18v1h-18zM248 230h2v1h-2zM257 230h1v1h-1zM262 230h1v1h-1zM274 230h1v1h-1zM276 230h1v1h-1zM278 230h1v1h-1zM280 230h1v1h-1zM207.5 231h35.5v1h-35.5zM245 231h2v1h-2zM249 231h2v1h-2zM264 231h1v1h-1zM267 231h1v1h-1zM270 231h1v1h-1zM276 231h1v1h-1zM207.5 232h33.5v1h-33.5zM242 232h1v1h-1zM245 232h1v1h-1zM259 232h3v1h-3zM267 232h2v1h-2zM275 232h1v1h-1zM207.5 233h35.5v1h-35.5zM245 233h2v1h-2zM251 233h1v1h-1zM263 233h1v1h-1zM272 233h1v1h-1zM278 233h1v1h-1zM280 233h1v1h-1zM284 233h1v1h-1zM207.5 234h31.5v1h-31.5zM241 234h6v1h-6zM249 234h1v1h-1zM251 234h2v1h-2zM259 234h1v1h-1zM264 234h1v1h-1zM268 234h2v1h-2zM272 234h1v1h-1zM274 234h1v1h-1zM207.5 235h31.5v1h-31.5zM240 235h1v1h-1zM243 235h1v1h-1zM245 235h1v1h-1zM249 235h1v1h-1zM261 235h4v1h-4zM267 235h1v1h-1zM269 235h1v1h-1zM271 235h1v1h-1zM207.5 236h29.5v1h-29.5zM239 236h3v1h-3zM243 236h1v1h-1zM245 236h1v1h-1zM248 236h1v1h-1zM250 236h2v1h-2zM253 236h1v1h-1zM259 236h3v1h-3zM263 236h1v1h-1zM266 236h5v1h-5zM272 236h1v1h-1zM275 236h1v1h-1zM277 236h2v1h-2zM207.5 237h29.5v1h-29.5zM238 237h1v1h-1zM240 237h8v1h-8zM249 237h2v1h-2zM255 237h10v1h-10zM266 237h1v1h-1zM270 237h3v1h-3zM277 237h1v1h-1zM207.5 238h33.5v1h-33.5zM242 238h1v1h-1zM244 238h5v1h-5zM251 238h1v1h-1zM257 238h1v1h-1zM260 238h3v1h-3zM264 238h3v1h-3zM269 238h1v1h-1zM273 238h1v1h-1zM207.5 239h30.5v1h-30.5zM241 239h2v1h-2zM244 239h5v1h-5zM250 239h2v1h-2zM255 239h1v1h-1zM258 239h1v1h-1zM260 239h1v1h-1zM262 239h3v1h-3zM266 239h1v1h-1zM268 239h3v1h-3zM273 239h1v1h-1zM279 239h1v1h-1zM207.5 240h35.5v1h-35.5zM247 240h6v1h-6zM254 240h3v1h-3zM258 240h8v1h-8zM268 240h6v1h-6zM207.5 241h31.5v1h-31.5zM240 241h26v1h-26zM267 241h1v1h-1zM270 241h1v1h-1zM277 241h1v1h-1zM207.5 242h32.5v1h-32.5zM241 242h2v1h-2zM247 242h1v1h-1zM249 242h10v1h-10zM260 242h2v1h-2zM263 242h5v1h-5zM270 242h1v1h-1zM272 242h1v1h-1zM207.5 243h33.5v1h-33.5zM242 243h5v1h-5zM248 243h5v1h-5zM254 243h14v1h-14zM269 243h1v1h-1zM273 243h2v1h-2zM207.5 244h29.5v1h-29.5zM238 244h2v1h-2zM241 244h3v1h-3zM245 244h4v1h-4zM251 244h12v1h-12zM264 244h4v1h-4zM269 244h1v1h-1zM271 244h3v1h-3zM277 244h1v1h-1zM207.5 245h33.5v1h-33.5zM243 245h4v1h-4zM252 245h14v1h-14zM267 245h1v1h-1zM274 245h1v1h-1zM276 245h1v1h-1zM207.5 246h30.5v1h-30.5zM239 246h5v1h-5zM245 246h1v1h-1zM249 246h3v1h-3zM253 246h4v1h-4zM258 246h6v1h-6zM265 246h2v1h-2zM273 246h1v1h-1zM207.5 247h34.5v1h-34.5zM244 247h1v1h-1zM247 247h1v1h-1zM249 247h1v1h-1zM251 247h3v1h-3zM255 247h9v1h-9zM265 247h5v1h-5zM207.5 248h34.5v1h-34.5zM243 248h3v1h-3zM247 248h1v1h-1zM249 248h6v1h-6zM256 248h3v1h-3zM262 248h1v1h-1zM265 248h1v1h-1zM270 248h1v1h-1zM207.5 249h30.5v1h-30.5zM240 249h7v1h-7zM250 249h1v1h-1zM252 249h9v1h-9zM263 249h2v1h-2zM273 249h1v1h-1zM207.5 250h30.5v1h-30.5zM239 250h1v1h-1zM242 250h1v1h-1zM244 250h3v1h-3zM248 250h5v1h-5zM254 250h1v1h-1zM257 250h3v1h-3zM261 250h1v1h-1zM263 250h1v1h-1zM266 250h5v1h-5zM207.5 251h29.5v1h-29.5zM239 251h4v1h-4zM244 251h4v1h-4zM249 251h10v1h-10zM262 251h2v1h-2zM269 251h1v1h-1zM271 251h1v1h-1zM207.5 252h31.5v1h-31.5zM240 252h7v1h-7zM254 252h1v1h-1zM256 252h1v1h-1zM258 252h1v1h-1zM260 252h1v1h-1zM263 252h2v1h-2zM269 252h1v1h-1zM207.5 253h29.5v1h-29.5zM239 253h3v1h-3zM243 253h4v1h-4zM248 253h1v1h-1zM250 253h1v1h-1zM253 253h2v1h-2zM257 253h1v1h-1zM259 253h1v1h-1zM262 253h1v1h-1zM265 253h1v1h-1zM275 253h1v1h-1zM207.5 254h32.5v1h-32.5zM241 254h2v1h-2zM244 254h1v1h-1zM248 254h3v1h-3zM252 254h1v1h-1zM263 254h1v1h-1zM266 254h2v1h-2zM270 254h1v1h-1zM277 254h1v1h-1zM207.5 255h30.5v1h-30.5zM239 255h1v1h-1zM242 255h4v1h-4zM248 255h2v1h-2zM255 255h2v1h-2zM260 255h1v1h-1zM275 255h1v1h-1zM207.5 256h30.5v1h-30.5zM239 256h3v1h-3zM243 256h4v1h-4zM249 256h1v1h-1zM265 256h1v1h-1zM207.5 257h28.5v1h-28.5zM238 257h1v1h-1zM240 257h1v1h-1zM242 257h2v1h-2zM245 257h4v1h-4zM250 257h2v1h-2zM253 257h2v1h-2zM277 257h1v1h-1zM207.5 258h29.5v1h-29.5zM238 258h5v1h-5zM244 258h2v1h-2zM250 258h1v1h-1zM252 258h1v1h-1zM258 258h1v1h-1zM268 258h1v1h-1zM207.5 259h28.5v1h-28.5zM237 259h2v1h-2zM240 259h1v1h-1zM242 259h1v1h-1zM245 259h6v1h-6zM253 259h1v1h-1zM260 259h1v1h-1zM263 259h2v1h-2zM269 259h1v1h-1zM271 259h1v1h-1zM207.5 260h32.5v1h-32.5zM242 260h6v1h-6zM249 260h1v1h-1zM253 260h2v1h-2zM261 260h1v1h-1zM264 260h1v1h-1zM266 260h1v1h-1zM207.5 261h35.5v1h-35.5zM244 261h3v1h-3zM248 261h1v1h-1zM251 261h1v1h-1zM254 261h1v1h-1zM257 261h1v1h-1zM259 261h1v1h-1zM262 261h1v1h-1zM264 261h1v1h-1zM270 261h1v1h-1zM273 261h1v1h-1zM277 261h1v1h-1zM207.5 262h30.5v1h-30.5zM239 262h5v1h-5zM247 262h5v1h-5zM262 262h1v1h-1zM267 262h1v1h-1zM207.5 263h33.5v1h-33.5zM242 263h2v1h-2zM245 263h3v1h-3zM249 263h1v1h-1zM253 263h2v1h-2zM259 263h1v1h-1zM263 263h1v1h-1zM266 263h1v1h-1zM269 263h1v1h-1zM207.5 264h33.5v1h-33.5zM242 264h4v1h-4zM248 264h1v1h-1zM254 264h2v1h-2zM258 264h1v1h-1zM264 264h1v1h-1zM270 264h1v1h-1zM207.5 265h34.5v1h-34.5zM246 265h2v1h-2zM252 265h1v1h-1zM257 265h1v1h-1zM260 265h1v1h-1zM262 265h1v1h-1zM270 265h2v1h-2zM207.5 266h36.5v1h-36.5zM246 266h4v1h-4zM257 266h1v1h-1zM277 266h2v1h-2zM207.5 267h32.5v1h-32.5zM241 267h2v1h-2zM245 267h2v1h-2zM252 267h1v1h-1zM271 267h1v1h-1zM207.5 268h31.5v1h-31.5zM240 268h2v1h-2zM243 268h1v1h-1zM247 268h1v1h-1zM254 268h1v1h-1zM256 268h1v1h-1zM262 268h1v1h-1zM269 268h1v1h-1zM275 268h1v1h-1zM207.5 269h29.5v1h-29.5zM238 269h4v1h-4zM243 269h1v1h-1zM245 269h1v1h-1zM253 269h1v1h-1zM264 269h1v1h-1zM267 269h1v1h-1zM278 269h1v1h-1zM207.5 270h33.5v1h-33.5zM244 270h1v1h-1zM246 270h1v1h-1zM252 270h1v1h-1zM258 270h1v1h-1zM270 270h2v1h-2zM277 270h1v1h-1zM207.5 271h28.5v1h-28.5zM238 271h1v1h-1zM240 271h1v1h-1zM242 271h1v1h-1zM244 271h1v1h-1zM246 271h1v1h-1zM249 271h1v1h-1zM252 271h1v1h-1zM255 271h1v1h-1zM259 271h1v1h-1zM273 271h5v1h-5zM207.5 272h29.5v1h-29.5zM238 272h1v1h-1zM240 272h1v1h-1zM244 272h1v1h-1zM288.0 221.5h1.6v1.6h-1.6zM294.5 222.7h1.6v1.6h-1.6zM279.7 229.2h1.6v1.6h-1.6zM281.0 231.7h1.6v1.6h-1.6zM284.5 229.2h1.6v1.6h-1.6zM286.7 228.2h1.6v1.6h-1.6zM290.0 233.0h1.6v1.6h-1.6zM282.2 236.2h1.6v1.6h-1.6zM279.7 247.2h1.6v1.6h-1.6zM281.5 247.2h1.6v1.6h-1.6zM285.7 246.2h1.6v1.6h-1.6zM284.2 249.2h1.6v1.6h-1.6zM282.2 254.2h1.6v1.6h-1.6zM289.0 255.0h1.6v1.6h-1.6zM329.2 239.7h1.6v1.6h-1.6z" fill="#000"/>
<path d="M207.00 272.70v4.5M207.00 272.70h-4.5M217.20 272.70v3M207.00 266.04h-3M223.16 272.70v3M207.00 262.14h-3M227.39 272.70v3M207.00 259.38h-3M230.68 272.70v3M207.00 257.24h-3M233.36 272.70v3M207.00 255.48h-3M235.63 272.70v3M207.00 254.00h-3M237.59 272.70v3M207.00 252.72h-3M239.32 272.70v3M207.00 251.59h-3M240.88 272.70v4.5M207.00 250.57h-4.5M251.07 272.70v3M207.00 243.91h-3M257.04 272.70v3M207.00 240.02h-3M261.27 272.70v3M207.00 237.25h-3M264.55 272.70v3M207.00 235.11h-3M267.23 272.70v3M207.00 233.36h-3M269.50 272.70v3M207.00 231.88h-3M271.47 272.70v3M207.00 230.59h-3M273.20 272.70v3M207.00 229.46h-3M274.75 272.70v4.5M207.00 228.45h-4.5M284.95 272.70v3M207.00 221.79h-3M290.91 272.70v3M207.00 217.89h-3M295.14 272.70v3M207.00 215.13h-3M298.43 272.70v3M207.00 212.99h-3M301.11 272.70v3M207.00 211.23h-3M303.38 272.70v3M207.00 209.75h-3M305.34 272.70v3M207.00 208.47h-3M307.07 272.70v3M207.00 207.34h-3M308.62 272.70v4.5M207.00 206.32h-4.5M318.82 272.70v3M207.00 199.66h-3M324.79 272.70v3M207.00 195.77h-3M329.02 272.70v3M207.00 193.00h-3M332.30 272.70v3M207.00 190.86h-3M334.98 272.70v3M207.00 189.11h-3M337.25 272.70v3M207.00 187.63h-3M339.22 272.70v3M207.00 186.34h-3M340.95 272.70v3M207.00 185.21h-3M342.50 272.70v4.5M207.00 184.20h-4.5" stroke="#000" stroke-width="1.15" fill="none"/>
<rect x="207.00" y="184.20" width="135.5" height="88.5" fill="none" stroke="#000" stroke-width="1.5"/>
<path d="M279.30 184.20V272.70M207.00 210.50H342.50" stroke="#000" stroke-width="1.5"/>
<text x="207.90" y="283.50" font-size="7.0" text-anchor="middle">10<tspan font-size="5.6" dy="-2.2">0</tspan></text>
<text x="241.78" y="283.50" font-size="7.0" text-anchor="middle">10<tspan font-size="5.6" dy="-2.2">1</tspan></text>
<text x="275.65" y="283.50" font-size="7.0" text-anchor="middle">10<tspan font-size="5.6" dy="-2.2">2</tspan></text>
<text x="309.52" y="283.50" font-size="7.0" text-anchor="middle">10<tspan font-size="5.6" dy="-2.2">3</tspan></text>
<text x="343.40" y="283.50" font-size="7.0" text-anchor="middle">10<tspan font-size="5.6" dy="-2.2">4</tspan></text>
<text transform="translate(202.70,272.50) rotate(-90)" font-size="7.1">10<tspan font-size="5.8" dy="-1.6">0</tspan></text>
<text transform="translate(202.70,249.40) rotate(-90)" font-size="7.1">10<tspan font-size="5.8" dy="-1.6">1</tspan></text>
<text transform="translate(202.70,226.80) rotate(-90)" font-size="7.1">10<tspan font-size="5.8" dy="-1.6">2</tspan></text>
<text transform="translate(202.70,208.80) rotate(-90)" font-size="7.1">10<tspan font-size="5.8" dy="-1.6">3</tspan></text>
<text transform="translate(202.70,193.10) rotate(-90)" font-size="7.1">10<tspan font-size="5.8" dy="-1.6">4</tspan></text>
<text x="274.45" y="289.30" font-size="6.6" text-anchor="middle">KJ1-26</text>
<text transform="translate(192.20,230.20) rotate(-90)" font-size="6.6" text-anchor="middle">CD4</text>
<text x="339.2" y="206.2" font-size="8.75" text-anchor="end" >1.56±0.29</text>
<path d="M379 184h1v1h-1zM386 184h1v1h-1zM392 184h2v1h-2zM395 184h1v1h-1zM398 184h1v1h-1zM400 184h3v1h-3zM404 184h1v1h-1zM410 184h3v1h-3zM414 184h1v1h-1zM378.5 185h1.5v1h-1.5zM383 185h5v1h-5zM390 185h4v1h-4zM396 185h15v1h-15zM412 185h1v1h-1zM419 185h1v1h-1zM422 185h1v1h-1zM425 185h1v1h-1zM427 185h1v1h-1zM444 185h1v1h-1zM378.5 186h8.5v1h-8.5zM388 186h1v1h-1zM390 186h5v1h-5zM396 186h22v1h-22zM426 186h1v1h-1zM428 186h2v1h-2zM431 186h1v1h-1zM441 186h1v1h-1zM447 186h2v1h-2zM378.5 187h39.5v1h-39.5zM420 187h1v1h-1zM427 187h1v1h-1zM436 187h1v1h-1zM441 187h1v1h-1zM378.5 188h38.5v1h-38.5zM420 188h2v1h-2zM425 188h1v1h-1zM427 188h4v1h-4zM433 188h1v1h-1zM435 188h2v1h-2zM442 188h1v1h-1zM465 188h1v1h-1zM378.5 189h36.5v1h-36.5zM416 189h2v1h-2zM423 189h1v1h-1zM428 189h1v1h-1zM432 189h1v1h-1zM440 189h1v1h-1zM470 189h1v1h-1zM378.5 190h36.5v1h-36.5zM418 190h1v1h-1zM421 190h2v1h-2zM425 190h1v1h-1zM431 190h1v1h-1zM439 190h1v1h-1zM441 190h1v1h-1zM445 190h1v1h-1zM448 190h1v1h-1zM454 190h1v1h-1zM467 190h1v1h-1zM378.5 191h37.5v1h-37.5zM418 191h3v1h-3zM430 191h1v1h-1zM432 191h1v1h-1zM440 191h1v1h-1zM446 191h1v1h-1zM448 191h1v1h-1zM457 191h2v1h-2zM460 191h2v1h-2zM463 191h1v1h-1zM378.5 192h39.5v1h-39.5zM420 192h1v1h-1zM424 192h1v1h-1zM433 192h1v1h-1zM435 192h3v1h-3zM439 192h1v1h-1zM446 192h1v1h-1zM448 192h1v1h-1zM450 192h1v1h-1zM453 192h2v1h-2zM456 192h1v1h-1zM458 192h3v1h-3zM463 192h5v1h-5zM378.5 193h39.5v1h-39.5zM419 193h2v1h-2zM448 193h2v1h-2zM451 193h1v1h-1zM454 193h5v1h-5zM460 193h6v1h-6zM467 193h1v1h-1zM378.5 194h39.5v1h-39.5zM419 194h2v1h-2zM425 194h1v1h-1zM440 194h1v1h-1zM443 194h1v1h-1zM447 194h1v1h-1zM454 194h1v1h-1zM456 194h1v1h-1zM459 194h3v1h-3zM463 194h1v1h-1zM465 194h2v1h-2zM378.5 195h36.5v1h-36.5zM417 195h1v1h-1zM419 195h3v1h-3zM424 195h2v1h-2zM433 195h5v1h-5zM448 195h1v1h-1zM450 195h1v1h-1zM455 195h1v1h-1zM457 195h2v1h-2zM461 195h1v1h-1zM463 195h1v1h-1zM465 195h1v1h-1zM378.5 196h38.5v1h-38.5zM418 196h2v1h-2zM426 196h1v1h-1zM437 196h1v1h-1zM445 196h1v1h-1zM453 196h1v1h-1zM457 196h2v1h-2zM463 196h1v1h-1zM378.5 197h39.5v1h-39.5zM419 197h1v1h-1zM421 197h1v1h-1zM427 197h2v1h-2zM440 197h1v1h-1zM443 197h1v1h-1zM452 197h2v1h-2zM456 197h2v1h-2zM461 197h2v1h-2zM378.5 198h36.5v1h-36.5zM419 198h1v1h-1zM428 198h1v1h-1zM432 198h1v1h-1zM445 198h1v1h-1zM378.5 199h34.5v1h-34.5zM414 199h1v1h-1zM416 199h4v1h-4zM438 199h1v1h-1zM441 199h1v1h-1zM443 199h1v1h-1zM457 199h1v1h-1zM378.5 200h32.5v1h-32.5zM412 200h4v1h-4zM418 200h1v1h-1zM424 200h1v1h-1zM429 200h1v1h-1zM435 200h1v1h-1zM440 200h1v1h-1zM442 200h1v1h-1zM445 200h3v1h-3zM378.5 201h34.5v1h-34.5zM420 201h1v1h-1zM422 201h1v1h-1zM426 201h1v1h-1zM438 201h1v1h-1zM442 201h1v1h-1zM444 201h2v1h-2zM380 202h7v1h-7zM388 202h1v1h-1zM390 202h19v1h-19zM410 202h1v1h-1zM413 202h3v1h-3zM417 202h1v1h-1zM423 202h1v1h-1zM425 202h1v1h-1zM429 202h1v1h-1zM433 202h1v1h-1zM441 202h2v1h-2zM378.5 203h0.5v1h-0.5zM381 203h12v1h-12zM394 203h2v1h-2zM397 203h2v1h-2zM400 203h10v1h-10zM411 203h1v1h-1zM414 203h1v1h-1zM428 203h1v1h-1zM432 203h1v1h-1zM380 204h5v1h-5zM386 204h6v1h-6zM393 204h2v1h-2zM398 204h3v1h-3zM402 204h6v1h-6zM409 204h2v1h-2zM412 204h1v1h-1zM420 204h1v1h-1zM436 204h1v1h-1zM444 204h1v1h-1zM378.5 205h0.5v1h-0.5zM382 205h1v1h-1zM393 205h1v1h-1zM395 205h1v1h-1zM400 205h2v1h-2zM405 205h1v1h-1zM409 205h1v1h-1zM412 205h4v1h-4zM422 205h1v1h-1zM430 205h1v1h-1zM437 205h1v1h-1zM439 205h1v1h-1zM441 205h2v1h-2zM445 205h1v1h-1zM449 205h1v1h-1zM379 206h3v1h-3zM386 206h1v1h-1zM388 206h1v1h-1zM391 206h1v1h-1zM393 206h1v1h-1zM395 206h1v1h-1zM398 206h1v1h-1zM403 206h1v1h-1zM405 206h3v1h-3zM409 206h1v1h-1zM413 206h3v1h-3zM417 206h1v1h-1zM422 206h1v1h-1zM426 206h1v1h-1zM431 206h1v1h-1zM433 206h1v1h-1zM438 206h1v1h-1zM440 206h3v1h-3zM449 206h1v1h-1zM380 207h1v1h-1zM389 207h1v1h-1zM391 207h2v1h-2zM394 207h1v1h-1zM396 207h1v1h-1zM399 207h2v1h-2zM402 207h4v1h-4zM407 207h1v1h-1zM410 207h2v1h-2zM413 207h1v1h-1zM415 207h2v1h-2zM420 207h1v1h-1zM422 207h1v1h-1zM429 207h1v1h-1zM431 207h1v1h-1zM434 207h1v1h-1zM437 207h1v1h-1zM441 207h1v1h-1zM443 207h1v1h-1zM448 207h2v1h-2zM378.5 208h2.5v1h-2.5zM383 208h1v1h-1zM385 208h2v1h-2zM388 208h1v1h-1zM390 208h2v1h-2zM394 208h3v1h-3zM399 208h2v1h-2zM405 208h1v1h-1zM412 208h1v1h-1zM415 208h1v1h-1zM420 208h1v1h-1zM426 208h1v1h-1zM429 208h1v1h-1zM431 208h1v1h-1zM440 208h1v1h-1zM445 208h1v1h-1zM448 208h2v1h-2zM388 209h1v1h-1zM391 209h1v1h-1zM394 209h2v1h-2zM398 209h1v1h-1zM400 209h3v1h-3zM410 209h1v1h-1zM414 209h2v1h-2zM419 209h1v1h-1zM423 209h3v1h-3zM427 209h1v1h-1zM432 209h1v1h-1zM440 209h2v1h-2zM443 209h1v1h-1zM446 209h1v1h-1zM379 210h1v1h-1zM383 210h1v1h-1zM396 210h1v1h-1zM398 210h5v1h-5zM405 210h4v1h-4zM411 210h1v1h-1zM379 211h1v1h-1zM381 211h1v1h-1zM385 211h1v1h-1zM396 211h1v1h-1zM400 211h1v1h-1zM402 211h3v1h-3zM406 211h1v1h-1zM408 211h1v1h-1zM410 211h1v1h-1zM413 211h2v1h-2zM416 211h1v1h-1zM378.5 212h0.5v1h-0.5zM380 212h2v1h-2zM383 212h2v1h-2zM387 212h1v1h-1zM389 212h1v1h-1zM391 212h5v1h-5zM397 212h1v1h-1zM399 212h2v1h-2zM402 212h1v1h-1zM404 212h3v1h-3zM408 212h1v1h-1zM410 212h6v1h-6zM433 212h1v1h-1zM379 213h1v1h-1zM383 213h3v1h-3zM394 213h1v1h-1zM397 213h1v1h-1zM400 213h1v1h-1zM405 213h1v1h-1zM409 213h3v1h-3zM413 213h1v1h-1zM417 213h1v1h-1zM423 213h1v1h-1zM379 214h2v1h-2zM382 214h1v1h-1zM384 214h1v1h-1zM386 214h2v1h-2zM389 214h1v1h-1zM394 214h2v1h-2zM402 214h2v1h-2zM405 214h1v1h-1zM407 214h2v1h-2zM410 214h2v1h-2zM414 214h1v1h-1zM417 214h1v1h-1zM420 214h1v1h-1zM444 214h3v1h-3zM449 214h1v1h-1zM378.5 215h0.5v1h-0.5zM380 215h3v1h-3zM384 215h1v1h-1zM386 215h1v1h-1zM389 215h1v1h-1zM391 215h1v1h-1zM395 215h1v1h-1zM404 215h2v1h-2zM407 215h3v1h-3zM414 215h1v1h-1zM416 215h2v1h-2zM420 215h1v1h-1zM424 215h1v1h-1zM426 215h1v1h-1zM432 215h1v1h-1zM434 215h1v1h-1zM448 215h2v1h-2zM378.5 216h0.5v1h-0.5zM381 216h1v1h-1zM385 216h1v1h-1zM387 216h2v1h-2zM390 216h1v1h-1zM396 216h1v1h-1zM399 216h6v1h-6zM408 216h1v1h-1zM419 216h1v1h-1zM424 216h1v1h-1zM434 216h1v1h-1zM446 216h1v1h-1zM378.5 217h1.5v1h-1.5zM390 217h1v1h-1zM399 217h2v1h-2zM405 217h2v1h-2zM409 217h2v1h-2zM417 217h2v1h-2zM426 217h1v1h-1zM444 217h3v1h-3zM378.5 218h0.5v1h-0.5zM383 218h1v1h-1zM386 218h1v1h-1zM391 218h1v1h-1zM393 218h1v1h-1zM397 218h2v1h-2zM402 218h2v1h-2zM408 218h4v1h-4zM413 218h1v1h-1zM415 218h1v1h-1zM418 218h1v1h-1zM426 218h2v1h-2zM431 218h1v1h-1zM441 218h1v1h-1zM443 218h1v1h-1zM446 218h1v1h-1zM449 218h1v1h-1zM378.5 219h0.5v1h-0.5zM382 219h7v1h-7zM390 219h2v1h-2zM395 219h2v1h-2zM398 219h2v1h-2zM403 219h3v1h-3zM411 219h2v1h-2zM416 219h1v1h-1zM421 219h1v1h-1zM424 219h3v1h-3zM437 219h1v1h-1zM441 219h1v1h-1zM447 219h2v1h-2zM380 220h3v1h-3zM385 220h3v1h-3zM389 220h1v1h-1zM392 220h1v1h-1zM394 220h4v1h-4zM399 220h1v1h-1zM401 220h2v1h-2zM405 220h1v1h-1zM408 220h5v1h-5zM415 220h1v1h-1zM421 220h1v1h-1zM428 220h2v1h-2zM431 220h1v1h-1zM442 220h1v1h-1zM445 220h2v1h-2zM378.5 221h1.5v1h-1.5zM382 221h3v1h-3zM388 221h3v1h-3zM397 221h3v1h-3zM401 221h3v1h-3zM406 221h1v1h-1zM409 221h2v1h-2zM414 221h2v1h-2zM417 221h1v1h-1zM421 221h1v1h-1zM424 221h1v1h-1zM428 221h1v1h-1zM431 221h1v1h-1zM434 221h1v1h-1zM440 221h1v1h-1zM379 222h1v1h-1zM383 222h1v1h-1zM385 222h1v1h-1zM390 222h1v1h-1zM392 222h1v1h-1zM394 222h2v1h-2zM397 222h2v1h-2zM401 222h1v1h-1zM405 222h2v1h-2zM408 222h1v1h-1zM410 222h2v1h-2zM413 222h6v1h-6zM420 222h1v1h-1zM422 222h2v1h-2zM434 222h1v1h-1zM378.5 223h1.5v1h-1.5zM387 223h1v1h-1zM396 223h1v1h-1zM399 223h5v1h-5zM407 223h3v1h-3zM411 223h2v1h-2zM414 223h5v1h-5zM420 223h1v1h-1zM424 223h2v1h-2zM432 223h1v1h-1zM436 223h1v1h-1zM448 223h1v1h-1zM458 223h1v1h-1zM379 224h1v1h-1zM383 224h1v1h-1zM394 224h1v1h-1zM397 224h2v1h-2zM400 224h1v1h-1zM403 224h1v1h-1zM406 224h4v1h-4zM412 224h3v1h-3zM417 224h1v1h-1zM419 224h5v1h-5zM441 224h2v1h-2zM446 224h1v1h-1zM449 224h1v1h-1zM379 225h1v1h-1zM383 225h1v1h-1zM387 225h3v1h-3zM391 225h1v1h-1zM394 225h3v1h-3zM398 225h6v1h-6zM406 225h2v1h-2zM409 225h2v1h-2zM412 225h3v1h-3zM417 225h2v1h-2zM428 225h1v1h-1zM432 225h1v1h-1zM435 225h1v1h-1zM437 225h1v1h-1zM441 225h2v1h-2zM446 225h1v1h-1zM448 225h1v1h-1zM456 225h1v1h-1zM380 226h1v1h-1zM382 226h2v1h-2zM393 226h1v1h-1zM395 226h1v1h-1zM397 226h3v1h-3zM402 226h3v1h-3zM406 226h3v1h-3zM411 226h3v1h-3zM415 226h4v1h-4zM420 226h1v1h-1zM429 226h2v1h-2zM432 226h1v1h-1zM434 226h1v1h-1zM443 226h1v1h-1zM448 226h1v1h-1zM381 227h4v1h-4zM386 227h1v1h-1zM388 227h4v1h-4zM393 227h3v1h-3zM397 227h4v1h-4zM402 227h2v1h-2zM408 227h2v1h-2zM412 227h3v1h-3zM418 227h1v1h-1zM421 227h1v1h-1zM423 227h1v1h-1zM427 227h1v1h-1zM430 227h1v1h-1zM432 227h2v1h-2zM435 227h1v1h-1zM443 227h3v1h-3zM447 227h1v1h-1zM449 227h1v1h-1zM381 228h6v1h-6zM394 228h9v1h-9zM404 228h1v1h-1zM406 228h1v1h-1zM409 228h3v1h-3zM413 228h6v1h-6zM421 228h1v1h-1zM423 228h1v1h-1zM429 228h1v1h-1zM432 228h1v1h-1zM434 228h4v1h-4zM440 228h1v1h-1zM447 228h1v1h-1zM378.5 229h0.5v1h-0.5zM381 229h6v1h-6zM390 229h2v1h-2zM393 229h7v1h-7zM401 229h3v1h-3zM407 229h4v1h-4zM412 229h2v1h-2zM417 229h2v1h-2zM424 229h1v1h-1zM427 229h1v1h-1zM429 229h2v1h-2zM432 229h1v1h-1zM437 229h2v1h-2zM443 229h1v1h-1zM381 230h8v1h-8zM390 230h3v1h-3zM394 230h8v1h-8zM405 230h5v1h-5zM411 230h2v1h-2zM414 230h2v1h-2zM417 230h2v1h-2zM422 230h3v1h-3zM429 230h1v1h-1zM432 230h1v1h-1zM435 230h3v1h-3zM378.5 231h1.5v1h-1.5zM382 231h7v1h-7zM391 231h1v1h-1zM393 231h9v1h-9zM403 231h8v1h-8zM413 231h1v1h-1zM415 231h2v1h-2zM419 231h1v1h-1zM421 231h1v1h-1zM424 231h2v1h-2zM427 231h4v1h-4zM435 231h3v1h-3zM439 231h1v1h-1zM442 231h1v1h-1zM446 231h1v1h-1zM378.5 232h0.5v1h-0.5zM380 232h12v1h-12zM393 232h23v1h-23zM417 232h1v1h-1zM419 232h1v1h-1zM425 232h2v1h-2zM428 232h5v1h-5zM434 232h1v1h-1zM440 232h1v1h-1zM444 232h1v1h-1zM378.5 233h33.5v1h-33.5zM413 233h2v1h-2zM421 233h2v1h-2zM424 233h4v1h-4zM429 233h1v1h-1zM432 233h5v1h-5zM439 233h1v1h-1zM442 233h1v1h-1zM444 233h1v1h-1zM378.5 234h34.5v1h-34.5zM414 234h1v1h-1zM416 234h1v1h-1zM418 234h1v1h-1zM420 234h1v1h-1zM423 234h12v1h-12zM443 234h1v1h-1zM446 234h1v1h-1zM378.5 235h32.5v1h-32.5zM415 235h2v1h-2zM418 235h5v1h-5zM425 235h9v1h-9zM439 235h1v1h-1zM447 235h1v1h-1zM378.5 236h30.5v1h-30.5zM412 236h4v1h-4zM419 236h4v1h-4zM424 236h2v1h-2zM427 236h4v1h-4zM432 236h3v1h-3zM437 236h2v1h-2zM440 236h4v1h-4zM445 236h1v1h-1zM378.5 237h35.5v1h-35.5zM416 237h2v1h-2zM422 237h9v1h-9zM432 237h5v1h-5zM438 237h1v1h-1zM442 237h4v1h-4zM452 237h1v1h-1zM378.5 238h33.5v1h-33.5zM415 238h5v1h-5zM422 238h1v1h-1zM424 238h8v1h-8zM433 238h1v1h-1zM436 238h2v1h-2zM446 238h1v1h-1zM449 238h1v1h-1zM378.5 239h35.5v1h-35.5zM415 239h1v1h-1zM420 239h1v1h-1zM422 239h2v1h-2zM425 239h4v1h-4zM430 239h2v1h-2zM434 239h4v1h-4zM440 239h1v1h-1zM442 239h1v1h-1zM444 239h1v1h-1zM446 239h1v1h-1zM378.5 240h35.5v1h-35.5zM415 240h2v1h-2zM418 240h2v1h-2zM424 240h1v1h-1zM426 240h3v1h-3zM430 240h1v1h-1zM432 240h4v1h-4zM439 240h2v1h-2zM442 240h1v1h-1zM446 240h1v1h-1zM449 240h1v1h-1zM378.5 241h36.5v1h-36.5zM416 241h7v1h-7zM424 241h8v1h-8zM433 241h4v1h-4zM440 241h1v1h-1zM445 241h1v1h-1zM449 241h1v1h-1zM452 241h1v1h-1zM378.5 242h36.5v1h-36.5zM416 242h1v1h-1zM418 242h5v1h-5zM424 242h3v1h-3zM428 242h3v1h-3zM433 242h1v1h-1zM435 242h6v1h-6zM444 242h1v1h-1zM447 242h1v1h-1zM378.5 243h32.5v1h-32.5zM414 243h5v1h-5zM420 243h4v1h-4zM425 243h1v1h-1zM427 243h2v1h-2zM430 243h5v1h-5zM436 243h4v1h-4zM445 243h1v1h-1zM456 243h1v1h-1zM378.5 244h36.5v1h-36.5zM417 244h5v1h-5zM423 244h1v1h-1zM427 244h3v1h-3zM431 244h7v1h-7zM439 244h2v1h-2zM442 244h1v1h-1zM447 244h1v1h-1zM378.5 245h36.5v1h-36.5zM416 245h5v1h-5zM422 245h5v1h-5zM428 245h6v1h-6zM436 245h4v1h-4zM441 245h3v1h-3zM445 245h1v1h-1zM378.5 246h32.5v1h-32.5zM412 246h11v1h-11zM424 246h2v1h-2zM427 246h4v1h-4zM432 246h7v1h-7zM442 246h3v1h-3zM378.5 247h38.5v1h-38.5zM418 247h1v1h-1zM422 247h5v1h-5zM428 247h9v1h-9zM438 247h1v1h-1zM440 247h2v1h-2zM446 247h2v1h-2zM378.5 248h32.5v1h-32.5zM414 248h3v1h-3zM419 248h1v1h-1zM421 248h2v1h-2zM425 248h3v1h-3zM429 248h2v1h-2zM432 248h4v1h-4zM437 248h3v1h-3zM444 248h1v1h-1zM447 248h1v1h-1zM378.5 249h38.5v1h-38.5zM419 249h1v1h-1zM421 249h5v1h-5zM427 249h3v1h-3zM432 249h3v1h-3zM436 249h2v1h-2zM440 249h3v1h-3zM378.5 250h36.5v1h-36.5zM417 250h3v1h-3zM421 250h1v1h-1zM423 250h1v1h-1zM425 250h2v1h-2zM428 250h4v1h-4zM433 250h4v1h-4zM438 250h2v1h-2zM441 250h1v1h-1zM447 250h1v1h-1zM449 250h1v1h-1zM378.5 251h39.5v1h-39.5zM419 251h1v1h-1zM421 251h3v1h-3zM425 251h3v1h-3zM429 251h2v1h-2zM437 251h1v1h-1zM439 251h1v1h-1zM442 251h1v1h-1zM378.5 252h34.5v1h-34.5zM414 252h3v1h-3zM418 252h1v1h-1zM420 252h3v1h-3zM425 252h1v1h-1zM428 252h1v1h-1zM430 252h2v1h-2zM437 252h1v1h-1zM439 252h1v1h-1zM441 252h1v1h-1zM443 252h1v1h-1zM378.5 253h38.5v1h-38.5zM419 253h10v1h-10zM431 253h1v1h-1zM433 253h1v1h-1zM437 253h2v1h-2zM441 253h1v1h-1zM443 253h2v1h-2zM451 253h1v1h-1zM378.5 254h33.5v1h-33.5zM413 254h6v1h-6zM420 254h4v1h-4zM425 254h1v1h-1zM427 254h2v1h-2zM431 254h2v1h-2zM436 254h1v1h-1zM438 254h1v1h-1zM443 254h1v1h-1zM451 254h1v1h-1zM378.5 255h33.5v1h-33.5zM413 255h1v1h-1zM415 255h3v1h-3zM422 255h1v1h-1zM426 255h1v1h-1zM430 255h1v1h-1zM432 255h1v1h-1zM434 255h1v1h-1zM445 255h1v1h-1zM378.5 256h39.5v1h-39.5zM419 256h1v1h-1zM421 256h1v1h-1zM424 256h4v1h-4zM432 256h2v1h-2zM436 256h1v1h-1zM439 256h1v1h-1zM442 256h2v1h-2zM449 256h1v1h-1zM378.5 257h31.5v1h-31.5zM411 257h3v1h-3zM415 257h6v1h-6zM424 257h1v1h-1zM427 257h1v1h-1zM429 257h1v1h-1zM431 257h2v1h-2zM436 257h1v1h-1zM446 257h1v1h-1zM448 257h1v1h-1zM450 257h1v1h-1zM378.5 258h33.5v1h-33.5zM413 258h3v1h-3zM417 258h1v1h-1zM420 258h2v1h-2zM424 258h1v1h-1zM429 258h1v1h-1zM433 258h1v1h-1zM435 258h1v1h-1zM437 258h3v1h-3zM441 258h1v1h-1zM378.5 259h30.5v1h-30.5zM412 259h4v1h-4zM418 259h1v1h-1zM426 259h2v1h-2zM432 259h1v1h-1zM435 259h1v1h-1zM443 259h1v1h-1zM378.5 260h29.5v1h-29.5zM409 260h5v1h-5zM415 260h2v1h-2zM418 260h3v1h-3zM423 260h3v1h-3zM427 260h1v1h-1zM430 260h2v1h-2zM433 260h2v1h-2zM438 260h1v1h-1zM442 260h1v1h-1zM449 260h1v1h-1zM378.5 261h29.5v1h-29.5zM409 261h2v1h-2zM412 261h1v1h-1zM415 261h1v1h-1zM419 261h1v1h-1zM421 261h2v1h-2zM426 261h1v1h-1zM430 261h2v1h-2zM433 261h2v1h-2zM444 261h1v1h-1zM378.5 262h35.5v1h-35.5zM415 262h2v1h-2zM419 262h2v1h-2zM423 262h1v1h-1zM433 262h1v1h-1zM436 262h1v1h-1zM438 262h1v1h-1zM378.5 263h34.5v1h-34.5zM415 263h1v1h-1zM418 263h1v1h-1zM420 263h1v1h-1zM422 263h2v1h-2zM425 263h1v1h-1zM429 263h1v1h-1zM434 263h1v1h-1zM440 263h1v1h-1zM378.5 264h33.5v1h-33.5zM413 264h1v1h-1zM415 264h1v1h-1zM417 264h1v1h-1zM419 264h2v1h-2zM440 264h1v1h-1zM443 264h2v1h-2zM378.5 265h33.5v1h-33.5zM413 265h3v1h-3zM417 265h3v1h-3zM421 265h1v1h-1zM425 265h1v1h-1zM427 265h1v1h-1zM429 265h1v1h-1zM440 265h1v1h-1zM378.5 266h34.5v1h-34.5zM414 266h3v1h-3zM422 266h1v1h-1zM429 266h1v1h-1zM437 266h1v1h-1zM440 266h1v1h-1zM378.5 267h28.5v1h-28.5zM408 267h1v1h-1zM410 267h1v1h-1zM412 267h1v1h-1zM414 267h1v1h-1zM416 267h1v1h-1zM418 267h1v1h-1zM424 267h1v1h-1zM434 267h1v1h-1zM378.5 268h29.5v1h-29.5zM411 268h1v1h-1zM413 268h2v1h-2zM424 268h1v1h-1zM428 268h1v1h-1zM431 268h1v1h-1zM378.5 269h31.5v1h-31.5zM411 269h2v1h-2zM415 269h3v1h-3zM425 269h1v1h-1zM431 269h1v1h-1zM447 269h1v1h-1zM378.5 270h39.5v1h-39.5zM423 270h1v1h-1zM427 270h2v1h-2zM439 270h2v1h-2zM378.5 271h36.5v1h-36.5zM416 271h1v1h-1zM418 271h1v1h-1zM434 271h1v1h-1zM378.5 272h35.5v1h-35.5zM451.2 212.7h1.6v1.6h-1.6zM462.2 212.7h1.6v1.6h-1.6zM454.2 229.2h1.6v1.6h-1.6zM456.7 232.7h1.6v1.6h-1.6zM450.2 234.7h1.6v1.6h-1.6zM452.2 237.2h1.6v1.6h-1.6zM454.7 237.2h1.6v1.6h-1.6zM464.2 236.2h1.6v1.6h-1.6zM464.2 240.7h1.6v1.6h-1.6zM467.7 241.7h1.6v1.6h-1.6zM455.7 242.7h1.6v1.6h-1.6zM450.7 244.7h1.6v1.6h-1.6zM454.2 246.2h1.6v1.6h-1.6zM451.2 248.2h1.6v1.6h-1.6zM451.2 252.7h1.6v1.6h-1.6zM452.2 254.2h1.6v1.6h-1.6zM457.7 252.7h1.6v1.6h-1.6zM463.2 260.7h1.6v1.6h-1.6z" fill="#000"/>
<path d="M378.00 272.70v4.5M378.00 272.70h-4.5M388.20 272.70v3M378.00 266.04h-3M394.16 272.70v3M378.00 262.14h-3M398.39 272.70v3M378.00 259.38h-3M401.68 272.70v3M378.00 257.24h-3M404.36 272.70v3M378.00 255.48h-3M406.63 272.70v3M378.00 254.00h-3M408.59 272.70v3M378.00 252.72h-3M410.32 272.70v3M378.00 251.59h-3M411.88 272.70v4.5M378.00 250.57h-4.5M422.07 272.70v3M378.00 243.91h-3M428.04 272.70v3M378.00 240.02h-3M432.27 272.70v3M378.00 237.25h-3M435.55 272.70v3M378.00 235.11h-3M438.23 272.70v3M378.00 233.36h-3M440.50 272.70v3M378.00 231.88h-3M442.47 272.70v3M378.00 230.59h-3M444.20 272.70v3M378.00 229.46h-3M445.75 272.70v4.5M378.00 228.45h-4.5M455.95 272.70v3M378.00 221.79h-3M461.91 272.70v3M378.00 217.89h-3M466.14 272.70v3M378.00 215.13h-3M469.43 272.70v3M378.00 212.99h-3M472.11 272.70v3M378.00 211.23h-3M474.38 272.70v3M378.00 209.75h-3M476.34 272.70v3M378.00 208.47h-3M478.07 272.70v3M378.00 207.34h-3M479.62 272.70v4.5M378.00 206.32h-4.5M489.82 272.70v3M378.00 199.66h-3M495.79 272.70v3M378.00 195.77h-3M500.02 272.70v3M378.00 193.00h-3M503.30 272.70v3M378.00 190.86h-3M505.98 272.70v3M378.00 189.11h-3M508.25 272.70v3M378.00 187.63h-3M510.22 272.70v3M378.00 186.34h-3M511.95 272.70v3M378.00 185.21h-3M513.50 272.70v4.5M378.00 184.20h-4.5" stroke="#000" stroke-width="1.15" fill="none"/>
<rect x="378.00" y="184.20" width="135.5" height="88.5" fill="none" stroke="#000" stroke-width="1.5"/>
<path d="M450.30 184.20V272.70M378.00 210.50H513.50" stroke="#000" stroke-width="1.5"/>
<text x="378.90" y="283.50" font-size="7.0" text-anchor="middle">10<tspan font-size="5.6" dy="-2.2">0</tspan></text>
<text x="412.77" y="283.50" font-size="7.0" text-anchor="middle">10<tspan font-size="5.6" dy="-2.2">1</tspan></text>
<text x="446.65" y="283.50" font-size="7.0" text-anchor="middle">10<tspan font-size="5.6" dy="-2.2">2</tspan></text>
<text x="480.52" y="283.50" font-size="7.0" text-anchor="middle">10<tspan font-size="5.6" dy="-2.2">3</tspan></text>
<text x="514.40" y="283.50" font-size="7.0" text-anchor="middle">10<tspan font-size="5.6" dy="-2.2">4</tspan></text>
<text transform="translate(373.70,272.50) rotate(-90)" font-size="7.1">10<tspan font-size="5.8" dy="-1.6">0</tspan></text>
<text transform="translate(373.70,249.40) rotate(-90)" font-size="7.1">10<tspan font-size="5.8" dy="-1.6">1</tspan></text>
<text transform="translate(373.70,226.80) rotate(-90)" font-size="7.1">10<tspan font-size="5.8" dy="-1.6">2</tspan></text>
<text transform="translate(373.70,208.80) rotate(-90)" font-size="7.1">10<tspan font-size="5.8" dy="-1.6">3</tspan></text>
<text transform="translate(373.70,193.10) rotate(-90)" font-size="7.1">10<tspan font-size="5.8" dy="-1.6">4</tspan></text>
<text x="445.45" y="289.30" font-size="6.6" text-anchor="middle">KJ1-26</text>
<text transform="translate(363.20,230.20) rotate(-90)" font-size="6.6" text-anchor="middle">CD4</text>
<text x="509.4" y="206.2" font-size="8.75" text-anchor="end" >0.18±0.01</text>
<text x="71.3" y="337.2" font-size="13.5" font-weight="bold">b</text>
<path d="M126.7 513.1V321.3H393.3V513.1H126.7" stroke="#000" stroke-width="1.4" fill="none"/>
<path d="M125.90 513.1v5M157.20 513.1v5M188.50 513.1v5M219.80 513.1v5M251.10 513.1v5M282.40 513.1v5M313.70 513.1v5M345.00 513.1v5M376.30 513.1v5M126.7 512.80h-5.6M126.7 468.10h-5.6M126.7 423.40h-5.6M126.7 378.70h-5.6M393.3 513.00h5.4M393.3 473.90h5.4M393.3 434.80h5.4M393.3 395.70h5.4M393.3 356.60h5.4" stroke="#000" stroke-width="1.3"/>
<text x="125.4" y="528.0" font-size="8.5" text-anchor="middle" >0</text>
<text x="156.7" y="528.0" font-size="8.5" text-anchor="middle" >2</text>
<text x="188.0" y="528.0" font-size="8.5" text-anchor="middle" >4</text>
<text x="219.3" y="528.0" font-size="8.5" text-anchor="middle" >6</text>
<text x="250.6" y="528.0" font-size="8.5" text-anchor="middle" >8</text>
<text x="281.9" y="528.0" font-size="8.5" text-anchor="middle" >10</text>
<text x="313.2" y="528.0" font-size="8.5" text-anchor="middle" >12</text>
<text x="344.5" y="528.0" font-size="8.5" text-anchor="middle" >14</text>
<text x="375.8" y="528.0" font-size="8.5" text-anchor="middle" >16</text>
<text x="119.6" y="471.00" font-size="8.5" text-anchor="end" font-family="Liberation Serif, serif" style="stroke:none">2.0</text>
<text x="119.6" y="426.30" font-size="8.5" text-anchor="end" font-family="Liberation Serif, serif" style="stroke:none">4.0</text>
<text x="119.6" y="381.60" font-size="8.5" text-anchor="end" font-family="Liberation Serif, serif" style="stroke:none">6.0</text>
<text x="119.0" y="515.8" font-size="8.5" text-anchor="end" >0</text>
<text x="402.0" y="516.0" font-size="8.5" text-anchor="start" >0</text>
<text x="402.0" y="476.9" font-size="8.5" text-anchor="start" >2.5</text>
<text x="402.0" y="437.8" font-size="8.5" text-anchor="start" >5.0</text>
<text x="402.0" y="398.7" font-size="8.5" text-anchor="start" >7.5</text>
<text x="402.0" y="359.6" font-size="8.5" text-anchor="start" >10</text>
<text x="203.0" y="541.5" font-size="8.75" text-anchor="start" >Days post immunization</text>
<text transform="translate(103,416) rotate(-90)" font-size="8.95" text-anchor="middle">number of CD4<tspan font-size="6.8" dy="-3.4">+</tspan><tspan dy="3.4"> KJ1-26</tspan><tspan font-size="6.8" dy="-3.4">+</tspan><tspan dy="3.4"> cells (x10</tspan><tspan font-size="6.8" dy="-3.4">5</tspan><tspan dy="3.4">) per spleen</tspan></text>
<text transform="translate(423,415.5) rotate(90)" font-size="8.75" text-anchor="middle">IgG anti-OVA (µg/ml)</text>
<text x="156.5" y="337.5" font-size="8.75" text-anchor="start" >T cell response:</text>
<text x="291.2" y="337.5" font-size="8.75" text-anchor="start" >Ab response:</text>
<path d="M136.2 350.4H160M183.7 350.4H208M268.7 350.4H295.5M315.5 350.4H342.5" stroke="#000" stroke-width="1.4"/>
<rect x="144.5" y="345.9" width="9" height="9" fill="#fff" stroke="#000" stroke-width="1.4"/>
<circle cx="195.8" cy="350.4" r="4.6" fill="#fff" stroke="#000" stroke-width="1.4"/>
<rect x="278.3" y="345.7" width="9.6" height="9.4" fill="#000"/>
<circle cx="329.5" cy="350.4" r="5" fill="#000"/>
<text x="163.6" y="353.3" font-size="8.75" text-anchor="start" >Ag</text>
<text x="212.5" y="353.3" font-size="8.75" text-anchor="start" >IgG2a/Ag</text>
<text x="298.6" y="353.3" font-size="8.75" text-anchor="start" >Ag</text>
<text x="347.4" y="353.3" font-size="8.75" text-anchor="start" >IgG2a/Ag</text>
<path d="M174.41 377.80V424.40M170.81 377.80h7.2M170.81 424.40h7.2M189.98 445.60V463.60M186.38 445.60h7.2M186.38 463.60h7.2M267.83 372.20V399.80M264.23 372.20h7.2M264.23 399.80h7.2M376.82 401.70V454.20M373.22 401.70h7.2M373.22 454.20h7.2" stroke="#000" stroke-width="1.5" fill="none"/>
<path d="M158.84 485.90L174.41 401.50L189.98 455.30L205.55 490.50L267.83 501.50M158.84 509.20L174.41 507.00L189.98 507.00L205.55 508.60L267.83 509.00M205.55 508.40L267.83 502.00L376.82 500.60M205.55 470.90L267.83 386.90L376.82 427.50" stroke="#000" stroke-width="1.75" fill="none" stroke-linejoin="round"/>
<rect x="154.64" y="505.00" width="8.4" height="8.4" fill="#fff" stroke="#000" stroke-width="1.6"/>
<rect x="170.21" y="502.80" width="8.4" height="8.4" fill="#fff" stroke="#000" stroke-width="1.6"/>
<rect x="185.78" y="502.80" width="8.4" height="8.4" fill="#fff" stroke="#000" stroke-width="1.6"/>
<rect x="201.35" y="504.40" width="8.4" height="8.4" fill="#fff" stroke="#000" stroke-width="1.6"/>
<rect x="263.63" y="504.80" width="8.4" height="8.4" fill="#fff" stroke="#000" stroke-width="1.6"/>
<circle cx="158.84" cy="485.90" r="4.35" fill="#fff" stroke="#000" stroke-width="1.6"/>
<circle cx="174.41" cy="401.50" r="4.35" fill="#fff" stroke="#000" stroke-width="1.6"/>
<circle cx="189.98" cy="455.30" r="4.35" fill="#fff" stroke="#000" stroke-width="1.6"/>
<circle cx="205.55" cy="490.50" r="4.35" fill="#fff" stroke="#000" stroke-width="1.6"/>
<rect x="200.75" y="503.80" width="9.6" height="9.2" fill="#000"/>
<rect x="263.03" y="497.40" width="9.6" height="9.2" fill="#000"/>
<rect x="372.02" y="496.00" width="9.6" height="9.2" fill="#000"/>
<circle cx="205.55" cy="470.90" r="4.8" fill="#000"/>
<circle cx="267.83" cy="386.90" r="4.8" fill="#000"/>
<circle cx="376.82" cy="427.50" r="4.8" fill="#000"/>
<g fill="#000"><circle cx="152.80" cy="478.60" r="1.15"/><circle cx="174.60" cy="372.50" r="1.15"/><circle cx="190.40" cy="439.20" r="1.15"/><circle cx="206.80" cy="481.40" r="1.15"/><circle cx="214.10" cy="465.50" r="1.15"/><circle cx="217.50" cy="465.50" r="1.15"/><circle cx="220.90" cy="465.50" r="1.15"/><circle cx="265.00" cy="366.80" r="1.15"/><circle cx="268.40" cy="366.80" r="1.15"/><circle cx="271.80" cy="366.80" r="1.15"/><circle cx="375.50" cy="397.20" r="1.15"/><circle cx="379.10" cy="397.20" r="1.15"/></g>
</svg>
</body></html>
